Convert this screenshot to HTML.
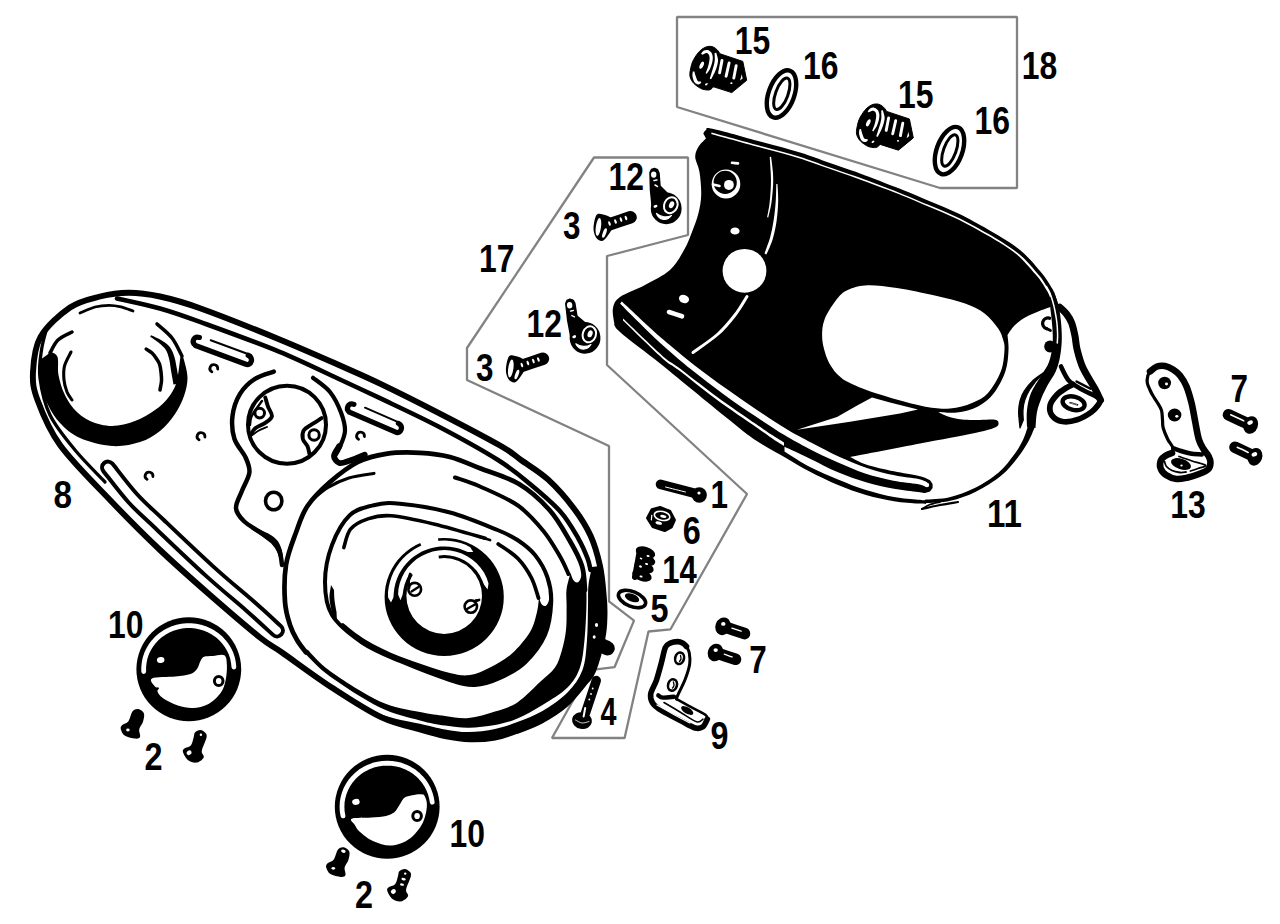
<!DOCTYPE html>
<html><head><meta charset="utf-8"><title>Primary chaincase</title>
<style>
html,body{margin:0;padding:0;background:#fff;}
body{width:1280px;height:924px;overflow:hidden;font-family:"Liberation Sans",sans-serif;}
svg{display:block}
text{font-family:"Liberation Sans",sans-serif;font-weight:bold;fill:#000;}
</style></head><body>
<svg width="1280" height="924" viewBox="0 0 1280 924">
<rect width="1280" height="924" fill="#fff"/>
<g id="groups">
<path d="M677.0 17.0L1017.0 17.0L1017.0 188.0L940.0 188.0L677.0 107.0Z" fill="none" stroke="#828282" stroke-width="2.3" stroke-linecap="round" stroke-linejoin="bevel"/>
<path d="M594.0 157.5L688.0 157.5L688.0 235.0L607.0 256.0L607.0 365.0L747.0 494.0L670.5 629.3L648.5 631.5L624.6 738.0L552.0 738.0L590.0 670.2L614.5 667.2L634.0 620.6L609.0 601.3L609.0 446.0L467.0 380.0L467.0 348.0Z" fill="none" stroke="#828282" stroke-width="2.3" stroke-linecap="round" stroke-linejoin="bevel"/>
</g>
<g id="labels" fill="#000" font-size="38.7">
<text x="734.7" y="53.7" textLength="35.5" lengthAdjust="spacingAndGlyphs">15</text>
<text x="802.9" y="79.0" textLength="35.5" lengthAdjust="spacingAndGlyphs">16</text>
<text x="897.9" y="107.9" textLength="35.5" lengthAdjust="spacingAndGlyphs">15</text>
<text x="974.5" y="134.1" textLength="35.5" lengthAdjust="spacingAndGlyphs">16</text>
<text x="1021.7" y="78.6" textLength="35.5" lengthAdjust="spacingAndGlyphs">18</text>
<text x="478.9" y="272.3" textLength="35.5" lengthAdjust="spacingAndGlyphs">17</text>
<text x="608.6" y="190.0" textLength="35.5" lengthAdjust="spacingAndGlyphs">12</text>
<text x="563.1" y="238.6" textLength="17.5" lengthAdjust="spacingAndGlyphs">3</text>
<text x="526.4" y="337.0" textLength="35.5" lengthAdjust="spacingAndGlyphs">12</text>
<text x="475.9" y="381.1" textLength="17.5" lengthAdjust="spacingAndGlyphs">3</text>
<text x="53.6" y="508.4" textLength="18.5" lengthAdjust="spacingAndGlyphs">8</text>
<text x="107.9" y="638.1" textLength="35.5" lengthAdjust="spacingAndGlyphs">10</text>
<text x="144.4" y="769.7" textLength="18" lengthAdjust="spacingAndGlyphs">2</text>
<text x="449.6" y="846.8" textLength="35.5" lengthAdjust="spacingAndGlyphs">10</text>
<text x="355.1" y="907.9" textLength="18" lengthAdjust="spacingAndGlyphs">2</text>
<text x="710.6" y="508.0" textLength="17.5" lengthAdjust="spacingAndGlyphs">1</text>
<text x="682.8" y="543.6" textLength="18" lengthAdjust="spacingAndGlyphs">6</text>
<text x="662.3" y="582.7" textLength="34.5" lengthAdjust="spacingAndGlyphs">14</text>
<text x="650.6" y="622.1" textLength="18" lengthAdjust="spacingAndGlyphs">5</text>
<text x="600.5" y="724.7" textLength="16" lengthAdjust="spacingAndGlyphs">4</text>
<text x="749.2" y="672.8" textLength="17.5" lengthAdjust="spacingAndGlyphs">7</text>
<text x="710.6" y="748.6" textLength="18" lengthAdjust="spacingAndGlyphs">9</text>
<text x="986.9" y="526.5" textLength="35" lengthAdjust="spacingAndGlyphs">11</text>
<text x="1170.2" y="518.0" textLength="35.5" lengthAdjust="spacingAndGlyphs">13</text>
<text x="1230.5" y="402.0" textLength="17.5" lengthAdjust="spacingAndGlyphs">7</text>
</g>
<g id="p11">
<path d="M703.3 133.5C703.8 132.9 704.5 130.8 706.0 130.0C707.5 129.2 703.5 126.8 712.5 128.7C721.5 130.6 745.4 137.5 760.0 141.5C774.6 145.5 788.3 148.9 800.0 152.5C811.7 156.1 820.0 159.5 830.0 163.0C840.0 166.5 848.3 169.1 860.0 173.4C871.7 177.7 888.5 184.2 900.0 188.8C911.5 193.4 919.5 196.9 929.2 201.0C938.9 205.1 948.7 208.9 958.4 213.6C968.1 218.3 979.6 224.7 987.6 229.2C995.6 233.7 1001.1 237.0 1006.5 240.5C1011.9 244.0 1016.1 246.8 1020.0 250.0C1023.9 253.2 1026.7 256.0 1030.0 259.5C1033.3 263.0 1037.4 267.9 1040.0 271.0C1042.6 274.1 1043.8 275.6 1045.5 277.9C1047.2 280.2 1048.6 282.6 1050.0 285.0C1051.4 287.4 1052.6 288.7 1054.0 292.0C1055.4 295.3 1057.7 302.8 1058.4 305.0L1053.0 306.0C1050.8 306.8 1044.5 309.0 1040.0 310.8C1035.5 312.6 1030.2 314.6 1026.0 317.0C1021.8 319.4 1017.6 322.5 1014.5 325.5C1011.4 328.5 1008.7 333.4 1007.5 335.0L1007.5 335.0C1007.7 337.5 1008.8 344.0 1008.5 350.0C1008.2 356.0 1007.9 363.8 1005.5 371.0C1003.1 378.2 998.6 387.1 994.0 393.0C989.4 398.9 984.2 403.2 978.0 406.5C971.8 409.8 963.7 411.6 957.0 412.5C950.3 413.4 941.2 412.1 938.0 412.0L938.0 412.0C939.7 412.8 944.0 415.2 948.0 416.5C952.0 417.8 956.7 419.0 962.0 419.6C967.3 420.2 974.5 420.0 980.0 420.0C985.5 420.0 991.9 419.3 995.0 419.8C998.1 420.3 998.5 421.7 998.5 423.0C998.5 424.3 998.9 425.8 995.0 427.5C991.1 429.2 987.5 430.3 975.0 433.0C962.5 435.7 940.8 439.5 920.0 443.5C899.2 447.5 861.7 454.8 850.0 457.0L850.0 457.0C852.7 458.2 858.7 462.0 866.0 464.4C873.3 466.8 885.3 469.4 894.0 471.3C902.7 473.2 912.7 474.7 918.0 475.8C923.3 476.9 924.7 477.8 926.0 478.2L930.0 480.3L932.6 484.0L932.6 488.0L930.0 491.5L925.0 493.0L926.0 504.0C924.7 503.9 923.3 504.1 918.0 503.6C912.7 503.1 902.7 502.6 894.0 501.2C885.3 499.8 875.3 497.7 866.0 495.0C856.7 492.3 847.3 488.9 838.0 485.0C828.7 481.1 818.7 476.3 810.0 471.8C801.3 467.3 795.0 463.2 786.0 458.0C777.0 452.8 766.2 447.4 756.0 440.5C745.8 433.6 740.7 429.1 725.0 416.5C709.3 403.9 679.5 379.1 662.0 365.0C644.5 350.9 628.0 339.2 620.0 332.0C612.0 324.8 615.0 323.7 614.0 322.0L614.0 322.0C613.8 319.7 612.0 312.2 613.0 308.0C614.0 303.8 614.7 300.8 620.0 297.0C625.3 293.2 636.7 289.5 645.0 285.0C653.3 280.5 663.5 275.8 670.0 270.0C676.5 264.2 680.3 256.3 684.0 250.0C687.7 243.7 689.6 238.2 692.0 232.0C694.4 225.8 697.0 219.2 698.5 213.0C700.0 206.8 701.0 201.8 701.2 195.0C701.4 188.2 700.5 178.4 699.5 172.0C698.5 165.6 695.3 161.1 695.2 156.8C695.1 152.5 697.2 149.1 699.0 146.0C700.8 142.9 704.8 139.7 706.0 138.4Z" fill="#000"/>
<path d="M620.1 303.4C623.2 306.6 632.0 315.7 638.8 322.3C645.5 328.9 651.7 335.3 660.5 343.2C669.2 351.1 680.9 361.2 691.3 369.6C701.8 378.1 712.7 386.3 723.2 393.9C733.7 401.6 744.1 408.7 754.3 415.5C764.5 422.4 775.4 429.6 784.4 435.1C793.4 440.5 799.8 444.0 808.5 448.4C817.3 452.9 827.4 457.8 836.9 462.0C846.3 466.1 855.7 470.3 865.1 473.5C874.5 476.6 884.7 479.0 893.4 480.7C902.2 482.5 912.1 483.1 917.5 484.1C922.9 485.2 924.4 486.3 925.7 486.8L927.3 482.4C925.8 481.9 924.0 480.2 918.5 479.1C913.1 477.9 903.2 477.1 894.6 475.3C886.0 473.4 876.2 471.0 866.9 467.9C857.7 464.9 848.4 461.0 839.1 456.8C829.9 452.6 820.1 447.3 811.5 442.8C802.9 438.2 796.6 435.1 787.6 429.7C778.6 424.4 767.8 417.2 757.7 410.5C747.6 403.7 737.3 396.6 726.8 389.1C716.3 381.6 705.2 373.6 694.7 365.4C684.1 357.2 672.4 347.4 663.5 339.8C654.6 332.2 648.2 326.1 641.2 319.7C634.3 313.3 625.1 304.6 621.9 301.6Z" fill="#fff"/>
<ellipse cx="927.0" cy="485.0" rx="2.2" ry="2.2" transform="rotate(0.0 927.0 485.0)" fill="#fff" stroke="none" stroke-width="2.5"/>
<path d="M623.0 318.6C629.5 324.7 652.9 347.3 662.0 355.4C671.1 363.5 668.9 360.2 677.9 367.0C686.9 373.8 702.8 386.4 715.8 395.9C728.8 405.4 746.5 417.4 756.0 424.0C765.5 430.6 768.3 432.5 773.0 435.6C777.7 438.7 782.2 441.4 784.0 442.6L784.0 445.8C782.2 444.6 777.7 442.0 773.0 438.9C768.3 435.8 765.5 433.7 756.0 427.0C746.5 420.3 728.8 408.5 715.8 398.9C702.8 389.3 686.9 376.3 677.9 369.5C668.9 362.7 671.1 366.0 662.0 357.9C652.9 349.8 629.5 326.8 623.0 320.6Z" fill="#fff"/>
<path d="M784.5 446.8C788.8 448.8 801.1 454.4 810.0 458.7C818.9 462.9 828.7 468.4 838.0 472.3C847.3 476.2 856.7 479.5 866.0 482.2C875.3 484.9 885.3 487.1 894.0 488.7C902.7 490.3 912.5 491.2 918.0 492.0C923.5 492.8 925.5 493.2 927.0 493.5L927.0 500.3C925.5 500.2 923.5 500.4 918.0 499.8C912.5 499.2 902.7 498.6 894.0 497.0C885.3 495.4 875.3 492.9 866.0 490.0C856.7 487.1 847.3 483.2 838.0 479.4C828.7 475.6 818.7 471.5 810.0 467.0C801.3 462.5 790.2 455.0 786.0 452.4C781.8 449.8 784.8 451.6 784.5 451.4Z" fill="#fff"/>
<path d="M1003.2 340.0C1002.2 336.4 1001.3 332.8 998.2 328.4C995.1 324.0 990.1 317.5 984.6 313.4C979.1 309.3 973.2 306.5 965.1 303.6C957.0 300.7 947.3 298.4 935.9 295.8C924.5 293.2 908.3 289.8 896.9 288.0C885.5 286.2 875.5 285.0 867.7 285.2C859.9 285.4 854.9 287.0 850.0 289.0C845.1 291.0 842.6 292.4 838.4 297.3C834.2 302.2 827.5 311.9 824.8 318.7C822.1 325.5 821.9 331.7 822.2 338.2C822.5 344.7 825.0 352.6 826.8 357.7C828.6 362.8 831.1 366.1 833.0 369.0C834.9 371.9 835.9 373.0 838.4 375.2C840.9 377.4 841.9 379.0 848.0 382.0C854.1 385.0 862.7 389.0 875.0 393.0C887.3 397.0 909.5 403.4 922.0 406.0C934.5 408.6 941.7 409.0 950.0 408.5C958.3 408.0 965.7 405.6 972.0 403.0C978.3 400.4 983.2 398.3 988.0 393.0C992.8 387.7 998.2 378.2 1001.0 371.0C1003.8 363.8 1004.1 355.2 1004.5 350.0C1004.9 344.8 1004.2 343.6 1003.2 340.0Z" fill="#fff" stroke="none" stroke-width="0" stroke-linejoin="round" />
<path d="M797.0 429.8L837.0 417.0L858.0 405.0L872.0 397.5L890.0 402.5L918.0 409.5L900.0 413.5L850.0 421.8Z" fill="#fff" stroke="none" stroke-width="0" stroke-linejoin="round" />
<ellipse cx="744.5" cy="270.8" rx="21.9" ry="21.9" transform="rotate(0.0 744.5 270.8)" fill="#fff" stroke="none" stroke-width="2.5"/>
<ellipse cx="735.0" cy="231.0" rx="4.6" ry="3.6" transform="rotate(0.0 735.0 231.0)" fill="#fff" stroke="none" stroke-width="2.5"/>
<ellipse cx="684.0" cy="299.0" rx="5.2" ry="4.0" transform="rotate(20.0 684.0 299.0)" fill="#fff" stroke="none" stroke-width="2.5"/>
<path d="M669.0 312.0C671.2 312.7 679.8 315.6 682.0 316.3" fill="none" stroke="#fff" stroke-width="4.6" stroke-linecap="round" stroke-linejoin="round" />
<path d="M732.0 162.8C733.0 162.9 737.0 163.3 738.0 163.4" fill="none" stroke="#fff" stroke-width="2.6" stroke-linecap="round" stroke-linejoin="round" />
<path d="M711.7 184a14.3 14.6 0 1 0 28.6 0a14.3 14.6 0 1 0 -28.6 0ZM713.6 182.4a11.6 11.6 0 1 1 23.2 0a11.6 11.6 0 1 1 -23.2 0Z" fill="#fff" fill-rule="evenodd"/>
<ellipse cx="728.9" cy="184.9" rx="4.9" ry="5.0" transform="rotate(0.0 728.9 184.9)" fill="#fff" stroke="none" stroke-width="2.5"/>
<path d="M713.0 184.5C714.1 184.8 718.4 185.8 719.5 186.0" fill="none" stroke="#fff" stroke-width="2.6" stroke-linecap="round" stroke-linejoin="round" />
<path d="M715.0 181.2C716.0 181.5 720.0 182.9 721.0 183.2" fill="none" stroke="#000" stroke-width="2.4" stroke-linecap="round" stroke-linejoin="round" />
<path d="M769.7 156.9C769.9 159.4 770.5 167.4 770.7 172.1C770.9 176.7 771.1 179.8 770.9 185.0C770.7 190.1 770.2 197.5 769.6 202.9C769.0 208.3 767.5 214.9 767.1 217.3L768.3 217.5C768.8 215.1 770.6 208.5 771.4 203.1C772.2 197.7 772.8 190.2 773.1 185.0C773.4 179.8 773.2 176.7 772.9 171.9C772.6 167.2 771.4 159.3 771.1 156.7Z" fill="#fff"/>
<path d="M776.3 183.9C776.2 186.6 776.2 194.0 775.8 199.9C775.4 205.9 774.7 213.5 773.7 219.8C772.8 226.1 771.6 232.0 770.1 237.6C768.5 243.2 765.4 250.9 764.5 253.6L766.5 254.4C767.6 251.7 771.3 244.1 772.9 238.4C774.6 232.7 775.8 226.6 776.7 220.2C777.6 213.8 778.1 206.1 778.2 200.1C778.3 194.0 777.6 186.6 777.5 183.9Z" fill="#fff"/>
<path d="M747.0 296.5C745.0 299.6 739.8 308.8 735.0 315.0C730.2 321.2 725.0 327.8 718.0 334.0C711.0 340.2 697.2 349.4 693.0 352.5" fill="none" stroke="#fff" stroke-width="3.0" stroke-linecap="round" stroke-linejoin="round" />
<path d="M711.2 134.0C719.1 136.2 744.0 143.1 758.5 147.1C773.0 151.1 786.7 154.4 798.3 157.9C809.9 161.5 818.2 164.9 828.1 168.3C838.1 171.8 846.4 174.5 858.0 178.7C869.7 182.9 886.5 189.2 898.0 193.7C909.6 198.3 917.5 201.8 927.1 205.9C936.8 210.0 946.5 213.7 956.1 218.4C965.7 223.0 977.1 229.4 985.0 233.9C992.9 238.3 998.3 241.6 1003.6 245.0C1008.8 248.4 1012.8 251.2 1016.5 254.3C1020.3 257.3 1022.7 260.0 1025.9 263.4C1029.1 266.7 1033.2 271.6 1035.7 274.6C1038.2 277.6 1039.4 278.9 1040.9 281.2C1042.5 283.4 1043.9 285.7 1045.2 287.9C1046.5 290.1 1047.5 291.0 1048.8 294.2C1050.2 297.3 1052.5 304.7 1053.2 306.8L1054.9 306.2C1054.2 304.1 1052.0 296.6 1050.7 293.4C1049.4 290.2 1048.3 289.1 1046.9 286.9C1045.6 284.6 1044.2 282.2 1042.6 280.0C1041.0 277.7 1039.8 276.3 1037.2 273.3C1034.7 270.3 1030.7 265.4 1027.4 262.0C1024.1 258.6 1021.5 255.9 1017.7 252.9C1013.8 249.8 1009.8 247.1 1004.4 243.7C999.1 240.3 993.7 237.0 985.7 232.6C977.8 228.1 966.4 221.8 956.7 217.1C947.0 212.5 937.4 208.7 927.7 204.6C918.0 200.5 910.1 197.0 898.6 192.4C887.0 187.9 870.2 181.5 858.6 177.3C846.9 173.0 838.6 170.4 828.6 166.9C818.7 163.4 810.4 160.0 798.8 156.4C787.2 152.8 773.5 149.4 759.0 145.4C744.4 141.4 719.5 134.6 711.6 132.4Z" fill="#fff"/>
<path d="M1049.5 298.0C1049.7 300.3 1050.3 307.0 1050.8 312.0C1051.3 317.0 1052.1 322.5 1052.4 328.0C1052.7 333.5 1053.1 339.3 1052.5 345.0C1051.9 350.7 1050.9 356.8 1049.0 362.0C1047.1 367.2 1044.0 370.8 1041.0 376.0C1038.0 381.2 1033.3 387.3 1031.0 393.0C1028.7 398.7 1027.7 404.3 1027.0 410.0C1026.3 415.7 1027.0 424.2 1027.0 427.0L1035.5 428.0C1035.8 425.3 1036.0 417.0 1037.0 412.0C1038.0 407.0 1039.7 402.6 1041.5 398.0C1043.3 393.4 1045.7 388.8 1048.0 384.5C1050.3 380.2 1053.5 376.6 1055.5 372.0C1057.5 367.4 1059.0 362.5 1060.0 357.0C1061.0 351.5 1061.7 345.2 1061.8 339.0C1061.9 332.8 1061.4 325.7 1060.8 320.0C1060.2 314.3 1059.5 309.7 1058.4 305.0C1057.3 300.3 1054.7 294.2 1054.0 292.0Z" fill="#000"/>
<path d="M1046.5 286.5C1047.0 287.6 1048.8 290.6 1049.8 293.0C1050.8 295.4 1051.8 298.2 1052.6 301.0C1053.4 303.8 1054.1 306.5 1054.8 310.0C1055.5 313.5 1056.3 318.0 1056.8 322.0C1057.3 326.0 1057.5 330.5 1057.6 334.0C1057.7 337.5 1057.3 341.5 1057.3 343.0" fill="none" stroke="#fff" stroke-width="1.5" stroke-linecap="round" stroke-linejoin="round" />
<path d="M925.2 503.3C929.4 502.9 942.0 502.7 950.4 500.8C958.8 498.8 967.4 495.9 975.8 491.7C984.3 487.5 994.3 481.3 1001.3 475.5C1008.3 469.8 1013.3 463.1 1017.8 457.4C1022.4 451.7 1025.7 446.3 1028.5 441.3C1031.3 436.3 1033.7 429.6 1034.8 427.3L1028.2 424.7C1027.5 427.1 1025.9 433.7 1023.5 438.7C1021.2 443.7 1018.3 449.0 1014.2 454.6C1010.0 460.2 1005.4 466.8 998.7 472.5C992.1 478.1 982.3 484.2 974.2 488.3C966.0 492.4 957.8 495.3 949.6 497.2C941.4 499.1 929.0 499.3 924.8 499.7Z" fill="#000"/>
<path d="M922.0 509.0C925.0 508.3 934.0 506.2 940.0 505.0C946.0 503.8 955.0 502.5 958.0 502.0" fill="none" stroke="#000" stroke-width="2.2" stroke-linecap="round" stroke-linejoin="round" />
<path d="M922.0 509.0C923.3 508.2 927.0 505.7 930.0 504.5C933.0 503.3 938.3 502.4 940.0 502.0" fill="none" stroke="#000" stroke-width="1.8" stroke-linecap="round" stroke-linejoin="round" />
<path d="M1043.3 373.0C1041.6 374.2 1036.2 377.5 1033.0 380.5C1029.8 383.5 1026.4 387.8 1024.2 391.2C1022.0 394.6 1020.9 397.5 1020.0 401.0C1019.1 404.5 1018.6 407.5 1018.6 412.0C1018.6 416.5 1019.8 425.3 1020.0 428.0L1023.3 420.0C1023.2 418.3 1022.8 413.3 1023.0 410.0C1023.2 406.7 1023.7 403.3 1024.8 400.0C1025.9 396.7 1027.6 393.2 1029.5 390.0C1031.4 386.8 1034.9 382.5 1036.0 381.0Z" fill="#000" stroke="#000" stroke-width="1.2" stroke-linejoin="round"/>
<path d="M1049.5 318.2A5.2 5.2 0 1 0 1046.5 328.6" fill="none" stroke="#000" stroke-width="3.3" stroke-linecap="round"/>
<path d="M1046.5 328.6C1047.2 328.9 1049.8 330.2 1050.5 330.5" fill="none" stroke="#000" stroke-width="2.8" stroke-linecap="round" stroke-linejoin="round" />
<ellipse cx="1050.0" cy="346.4" rx="5.8" ry="6.0" transform="rotate(0.0 1050.0 346.4)" fill="#000" stroke="none" stroke-width="2.5"/>
<path d="M1059.7 307.2C1060.8 308.3 1064.5 311.4 1066.5 314.0C1068.5 316.6 1070.3 319.3 1071.7 323.0C1073.1 326.7 1074.1 331.7 1075.0 336.0C1075.9 340.3 1075.7 343.8 1077.0 349.0C1078.3 354.2 1079.9 361.0 1082.8 367.5C1085.7 374.0 1091.5 382.6 1094.5 388.0C1097.5 393.4 1099.5 398.0 1100.5 400.0" fill="none" stroke="#000" stroke-width="7.0" stroke-linecap="round" stroke-linejoin="round" />
<path d="M1100.5 400.0C1100.2 400.8 1100.0 402.5 1098.5 404.5C1097.0 406.5 1095.1 409.4 1091.5 412.0C1087.9 414.6 1081.9 418.2 1077.0 419.8C1072.1 421.4 1066.5 422.2 1062.3 421.5C1058.1 420.8 1054.0 418.2 1052.0 415.5C1050.0 412.8 1049.4 408.5 1050.2 405.0C1051.0 401.5 1054.4 397.5 1057.0 394.7C1059.6 391.9 1063.3 389.7 1066.0 388.0C1068.7 386.3 1071.8 385.1 1073.0 384.5" fill="none" stroke="#000" stroke-width="5.8" stroke-linecap="round" stroke-linejoin="round" />
<path d="M1061.0 366.5C1062.3 368.9 1065.5 377.0 1069.0 380.8C1072.5 384.6 1078.1 387.2 1082.0 389.5C1085.9 391.8 1089.9 393.4 1092.5 394.7C1095.1 396.0 1096.7 397.0 1097.5 397.5" fill="none" stroke="#000" stroke-width="4.6" stroke-linecap="round" stroke-linejoin="round" />
<path d="M1076.5 381.5C1078.8 382.7 1088.2 387.6 1090.5 388.8" fill="none" stroke="#000" stroke-width="2.4" stroke-linecap="round" stroke-linejoin="round" />
<ellipse cx="1073.6" cy="403.3" rx="11.2" ry="6.6" transform="rotate(14.0 1073.6 403.3)" fill="#fff" stroke="#000" stroke-width="4.4"/>
<path d="M1070.2 402.8C1071.4 403.1 1076.2 404.5 1077.4 404.8" fill="none" stroke="#000" stroke-width="1.7" stroke-linecap="round" stroke-linejoin="round" />
<path d="M1070.8 403.0C1071.8 403.3 1075.8 404.3 1076.8 404.6" fill="none" stroke="#fff" stroke-width="0.5" stroke-linecap="round" stroke-linejoin="round" />
</g>
<g id="p8">
<path d="M33.0 372.0C33.5 361.5 34.3 347.8 40.5 337.0C46.7 326.2 60.1 314.2 70.0 307.5C79.9 300.8 90.2 299.0 100.0 296.5C109.8 294.0 118.7 292.7 128.7 292.7C138.7 292.7 148.1 293.9 160.0 296.5C171.9 299.1 180.2 301.1 200.0 308.2C219.8 315.3 255.7 329.6 279.0 339.2C302.3 348.8 323.2 358.1 340.0 365.5C356.8 372.9 363.6 375.7 380.0 383.6C396.4 391.5 418.4 402.5 438.4 412.8C458.4 423.1 486.2 437.6 500.0 445.5C513.8 453.4 513.0 454.3 521.0 460.0C529.0 465.7 539.4 471.6 548.2 479.7C557.0 487.8 566.8 499.1 573.9 508.5C581.0 517.9 586.2 526.2 590.6 535.8C595.0 545.4 597.8 556.0 600.0 566.0C602.2 576.0 603.0 587.8 603.7 596.0C604.5 604.2 604.7 608.1 604.5 615.0C604.3 621.9 604.4 628.2 602.5 637.5C600.6 646.8 596.0 663.4 593.0 671.0C590.0 678.6 589.1 677.4 584.5 683.0C579.9 688.6 572.8 698.2 565.5 704.5C558.2 710.8 549.2 716.4 541.0 720.8C532.8 725.2 524.2 728.2 516.5 731.0C508.8 733.8 502.8 736.1 495.0 737.5C487.2 738.9 478.3 739.5 470.0 739.3C461.7 739.0 453.2 737.6 445.0 736.0C436.8 734.4 431.4 732.8 420.8 729.7C410.2 726.6 396.4 724.4 381.5 717.4C366.6 710.4 348.3 698.3 331.7 687.5C315.1 676.7 293.9 660.8 282.0 652.5C270.1 644.2 272.0 647.1 260.0 637.5C248.0 627.9 226.7 609.6 210.0 595.0C193.3 580.4 176.7 565.8 160.0 550.0C143.3 534.2 126.7 517.5 110.0 500.0C93.3 482.5 72.1 461.7 60.0 445.0C47.9 428.3 42.0 412.2 37.5 400.0C33.0 387.8 32.5 382.5 33.0 372.0Z" fill="none" stroke="#000" stroke-width="5.9" stroke-linecap="round" stroke-linejoin="round" />
<path d="M600.0 566.0C600.6 571.0 603.0 587.8 603.7 596.0C604.5 604.2 604.7 608.1 604.5 615.0C604.3 621.9 604.4 628.2 602.5 637.5C600.6 646.8 596.0 663.4 593.0 671.0C590.0 678.6 589.1 677.4 584.5 683.0C579.9 688.6 572.8 698.2 565.5 704.5C558.2 710.8 549.2 716.4 541.0 720.8C532.8 725.2 524.2 728.2 516.5 731.0C508.8 733.8 502.8 736.1 495.0 737.5C487.2 738.9 478.3 739.5 470.0 739.3C461.7 739.0 453.2 737.6 445.0 736.0C436.8 734.4 431.4 732.8 420.8 729.7C410.2 726.6 395.0 723.5 381.5 717.4C368.0 711.3 346.9 697.1 340.0 693.0L340.0 690.5C346.7 694.4 366.7 708.2 380.0 713.7C393.3 719.2 409.2 721.2 420.0 723.8C430.8 726.4 436.9 728.1 445.0 729.5C453.1 730.9 460.4 732.2 468.7 732.1C477.0 732.0 486.9 730.7 495.0 729.0C503.1 727.3 509.5 725.0 517.4 722.0C525.3 719.0 534.1 715.9 542.5 711.0C550.9 706.1 560.8 699.3 567.5 692.5C574.2 685.7 579.2 678.8 582.5 670.0C585.8 661.2 586.1 650.6 587.0 640.0C587.9 629.4 587.8 615.8 588.0 606.6C588.2 597.4 587.8 591.6 588.5 585.0C589.2 578.4 591.4 570.0 592.0 567.0Z" fill="#000"/>
<path d="M117.0 298.5C124.2 300.2 146.2 304.6 160.0 308.5C173.8 312.4 180.2 314.7 200.0 321.9C219.8 329.1 255.7 342.0 279.0 351.6C302.3 361.2 323.2 371.7 340.0 379.5C356.8 387.3 363.6 390.4 380.0 398.2C396.4 406.0 418.7 416.2 438.4 426.5C458.1 436.8 482.7 450.4 498.0 460.0C513.3 469.6 519.6 475.4 530.0 484.0C540.4 492.6 552.2 502.4 560.3 511.5C568.4 520.6 574.0 531.0 578.5 538.8C583.0 546.6 585.6 553.3 587.6 558.5C589.6 563.7 590.0 568.1 590.5 570.0" fill="none" stroke="#000" stroke-width="4.6" stroke-linecap="round" stroke-linejoin="round" />
<path d="M47.0 327.0C46.1 330.8 42.7 341.5 41.5 350.0C40.3 358.5 38.6 367.2 40.0 378.0C41.4 388.8 44.2 403.0 50.0 415.0C55.8 427.0 65.8 438.8 75.0 450.0C84.2 461.2 100.0 476.7 105.0 482.0" fill="none" stroke="#000" stroke-width="3.3" stroke-linecap="round" stroke-linejoin="round" />
<path d="M583.0 566.0C583.5 569.2 585.4 578.2 586.0 585.0C586.6 591.8 586.6 597.4 586.4 606.6C586.1 615.8 585.6 629.9 584.5 640.0C583.4 650.1 582.8 659.6 580.0 667.5C577.2 675.4 573.8 681.2 567.5 687.5C561.2 693.8 550.9 699.8 542.5 705.0C534.1 710.2 525.3 715.2 517.4 718.5C509.5 721.8 503.1 723.5 495.0 725.0C486.9 726.5 477.0 727.6 468.7 727.7C460.4 727.8 453.1 726.7 445.0 725.5C436.9 724.3 430.8 723.4 420.0 720.4C409.2 717.4 395.0 714.8 380.0 707.5C365.0 700.2 342.5 685.5 330.0 676.5C317.5 667.5 309.2 657.3 305.0 653.5L307.5 649.5C311.2 653.1 317.9 662.3 330.0 671.0C342.1 679.7 365.0 694.6 380.0 701.5C395.0 708.4 409.2 709.7 420.0 712.1C430.8 714.5 436.9 715.0 445.0 716.0C453.1 717.0 460.4 718.8 468.7 718.0C477.0 717.2 486.9 714.1 495.0 711.5C503.1 708.9 509.9 707.3 517.4 702.4C524.9 697.5 533.7 687.8 540.0 682.0C546.3 676.2 551.3 672.8 555.0 667.5C558.7 662.2 560.2 656.2 562.0 650.0C563.8 643.8 565.2 637.2 566.0 630.0C566.8 622.8 566.5 613.3 566.6 606.6C566.7 599.9 565.9 595.6 566.5 590.0C567.1 584.4 569.8 575.8 570.5 573.0C572 578 574 582.5 577 582.5C580 582.5 582 576 583 566Z" fill="#000"/>
<path d="M585.0 590.0C584.5 586.0 584.6 574.3 582.0 566.0C579.4 557.7 574.9 549.6 569.5 540.3C564.1 531.0 557.9 519.4 549.5 510.0C541.1 500.6 530.6 490.9 519.0 484.0C507.4 477.1 491.5 472.8 480.0 468.3C468.5 463.8 460.0 459.6 450.0 457.0C440.0 454.4 430.7 453.3 420.0 452.8C409.3 452.3 396.3 452.3 386.0 453.8C375.7 455.3 367.3 457.3 358.0 462.0C348.7 466.7 338.4 474.7 330.0 482.0C321.6 489.3 313.2 497.6 307.5 506.0C301.8 514.4 299.6 522.7 296.0 532.5C292.4 542.3 287.8 553.4 286.0 565.0C284.2 576.6 284.3 592.0 285.0 602.0C285.7 612.0 288.0 618.7 290.0 625.0C292.0 631.3 294.3 635.4 297.0 640.0C299.7 644.6 304.5 650.4 306.0 652.5" fill="none" stroke="#000" stroke-width="4.72" stroke-linecap="round" stroke-linejoin="round" />
<path d="M455.0 477.5C459.2 479.0 469.5 481.8 480.0 486.5C490.5 491.2 507.3 498.1 517.9 505.5C528.5 513.0 536.5 522.6 543.6 531.2C550.7 539.8 556.1 549.9 560.3 557.0C564.4 564.1 567.1 571.2 568.5 574.0" fill="none" stroke="#000" stroke-width="4.01" stroke-linecap="round" stroke-linejoin="round" />
<path d="M374.0 473.4C369.8 474.2 356.5 475.6 348.8 478.0C341.1 480.4 334.1 483.8 328.0 487.5C321.9 491.2 314.7 497.9 312.0 500.0" fill="none" stroke="#000" stroke-width="3.07" stroke-linecap="round" stroke-linejoin="round" />
<path d="M40.0 360.0C40.2 364.2 39.7 377.5 41.0 385.0C42.3 392.5 44.8 398.7 48.0 405.0C51.2 411.3 54.7 417.5 60.0 423.0C65.3 428.5 71.3 434.2 80.0 438.0C88.7 441.8 102.0 445.3 112.0 446.0C122.0 446.7 132.0 444.5 140.0 442.0C148.0 439.5 154.2 435.7 160.0 431.0C165.8 426.3 171.0 419.8 175.0 414.0C179.0 408.2 181.9 402.0 184.0 396.0C186.1 390.0 187.5 384.0 187.5 378.0C187.5 372.0 185.1 364.3 184.0 360.0C182.9 355.7 181.5 353.3 181.0 352.0L179.0 368.0C178.5 370.7 177.8 379.0 176.0 384.0C174.2 389.0 171.5 393.7 168.0 398.0C164.5 402.3 160.5 406.2 155.0 410.0C149.5 413.8 142.2 418.3 135.0 421.0C127.8 423.7 119.5 426.0 112.0 426.0C104.5 426.0 96.3 423.8 90.0 421.0C83.7 418.2 78.3 413.7 74.0 409.0C69.7 404.3 66.6 398.7 64.0 393.0C61.4 387.3 59.6 381.0 58.5 375.0C57.4 369.0 58.8 360.8 57.5 357.0C56.2 353.2 52.1 352.8 51.0 352.0Z" fill="#000"/>
<path d="M50.0 353.0C51.3 350.8 54.3 343.5 58.0 340.0C61.7 336.5 69.7 333.3 72.0 332.0" fill="none" stroke="#000" stroke-width="3.54" stroke-linecap="round" stroke-linejoin="round" />
<path d="M182.0 356.0C180.3 353.0 176.2 343.3 172.0 338.0C167.8 332.7 159.5 326.3 157.0 324.0" fill="none" stroke="#000" stroke-width="3.54" stroke-linecap="round" stroke-linejoin="round" />
<path d="M71.0 352.0C69.9 354.3 65.7 361.3 64.5 366.0C63.3 370.7 63.6 375.7 64.0 380.0C64.4 384.3 65.7 388.7 67.0 392.0C68.3 395.3 71.2 398.7 72.0 400.0" fill="none" stroke="#000" stroke-width="3.07" stroke-linecap="round" stroke-linejoin="round" />
<path d="M150.2 336.7C151.7 337.7 156.4 340.7 159.0 342.9C161.6 345.0 164.0 346.9 165.6 349.6C167.3 352.2 168.2 355.3 169.1 358.8C170.0 362.3 170.3 366.2 171.0 370.5C171.8 374.8 173.1 382.2 173.5 384.5L179.5 383.5C179.0 381.1 177.8 373.8 177.0 369.5C176.1 365.1 175.7 361.0 174.5 357.2C173.3 353.4 171.8 349.7 169.6 346.8C167.3 344.0 164.1 342.0 161.0 340.1C157.9 338.2 152.7 336.1 151.0 335.3Z" fill="#000"/>
<path d="M146.2 349.1C147.2 349.8 150.4 351.5 152.0 353.0C153.6 354.5 154.8 356.1 156.0 357.9C157.2 359.7 158.7 361.6 159.5 364.0C160.3 366.4 160.7 369.2 161.0 372.0C161.3 374.8 161.7 378.0 161.5 381.0C161.3 384.0 160.2 388.5 160.0 390.0" fill="none" stroke="#000" stroke-width="3.54" stroke-linecap="round" stroke-linejoin="round" />
<path d="M80.0 313.0C82.5 312.0 90.2 308.3 95.0 307.0C99.8 305.7 104.7 305.3 109.0 305.3C113.3 305.3 117.0 305.9 121.0 306.8C125.0 307.8 131.0 310.3 133.0 311.0" fill="none" stroke="#000" stroke-width="2.83" stroke-linecap="round" stroke-linejoin="round" />
<path d="M199.4 337.4C194.1 335.7 190.8 341.8 195.4 345.5L245.9 364.3C251.1 366.2 254.3 357.6 248.2 355.3" fill="none" stroke="#000" stroke-width="5.2" stroke-linecap="round" stroke-linejoin="round"/>
<path d="M248.6 354.3L210.7 340.2" fill="none" stroke="#000" stroke-width="2" stroke-linecap="round"/>
<path d="M353.9 404.4C348.6 402.4 345.1 408.3 349.4 412.2L395.7 432.2C400.7 434.4 404.4 426.0 398.4 423.4" fill="none" stroke="#000" stroke-width="5.2" stroke-linecap="round" stroke-linejoin="round"/>
<path d="M398.8 422.4L365.0 407.7" fill="none" stroke="#000" stroke-width="2" stroke-linecap="round"/>
<path d="M108.0 467.5C112.2 472.7 124.3 489.0 133.0 498.5C141.7 508.0 147.2 512.3 160.0 524.5C172.8 536.7 195.0 557.9 210.0 571.5C225.0 585.1 238.8 596.2 250.0 606.0C261.2 615.8 272.5 626.4 277.0 630.5" fill="none" stroke="#000" stroke-width="15.81" stroke-linecap="round" stroke-linejoin="round" />
<path d="M108.0 467.5C112.2 472.7 124.3 489.0 133.0 498.5C141.7 508.0 147.2 512.3 160.0 524.5C172.8 536.7 195.0 557.9 210.0 571.5C225.0 585.1 238.8 596.2 250.0 606.0C261.2 615.8 272.5 626.4 277.0 630.5" fill="none" stroke="#fff" stroke-width="7.79" stroke-linecap="round" stroke-linejoin="round" />
<path d="M211.9 371.9A3.9 3.9 0 1 1 217.7 369.0" fill="none" stroke="#000" stroke-width="2.8" stroke-linecap="round" transform="rotate(0 213.8 368.5)"/>
<path d="M199.1 439.9A3.9 3.9 0 1 1 204.9 437.0" fill="none" stroke="#000" stroke-width="2.8" stroke-linecap="round" transform="rotate(0 201.0 436.5)"/>
<path d="M147.1 479.4A3.9 3.9 0 1 1 152.9 476.5" fill="none" stroke="#000" stroke-width="2.8" stroke-linecap="round" transform="rotate(0 149.0 476.0)"/>
<path d="M358.6 439.4A3.9 3.9 0 1 1 364.4 436.5" fill="none" stroke="#000" stroke-width="2.8" stroke-linecap="round" transform="rotate(0 360.5 436.0)"/>
<ellipse cx="287.0" cy="424.7" rx="39.0" ry="39.0" transform="rotate(0.0 287.0 424.7)" fill="none" stroke="#000" stroke-width="4"/>
<ellipse cx="259.7" cy="413.1" rx="4.8" ry="4.8" transform="rotate(0.0 259.7 413.1)" fill="none" stroke="#000" stroke-width="3"/>
<ellipse cx="314.1" cy="435.0" rx="5.2" ry="5.2" transform="rotate(0.0 314.1 435.0)" fill="none" stroke="#000" stroke-width="3"/>
<path d="M265.3 397.5C265.8 399.1 267.0 403.8 268.1 406.9C269.2 410.0 272.4 413.6 271.9 416.3C271.4 419.0 268.1 420.8 265.3 422.8C262.5 424.8 257.3 426.5 255.0 428.4C252.7 430.3 251.9 433.2 251.3 434.1" fill="none" stroke="#000" stroke-width="3.89" stroke-linecap="round" stroke-linejoin="round" />
<path d="M262.0 401.0C260.7 402.8 255.8 409.2 254.0 412.0C252.2 414.8 251.7 415.8 251.0 418.0C250.3 420.2 250.2 423.8 250.0 425.0" fill="none" stroke="#000" stroke-width="2.36" stroke-linecap="round" stroke-linejoin="round" />
<path d="M251.0 436.0C252.2 435.2 255.3 432.5 258.0 431.0C260.7 429.5 265.5 427.7 267.0 427.0" fill="none" stroke="#000" stroke-width="1.89" stroke-linecap="round" stroke-linejoin="round" />
<path d="M321.6 418.1C319.9 419.2 314.3 422.7 311.3 424.7C308.3 426.7 305.2 427.9 303.8 430.3C302.4 432.7 302.2 436.1 302.8 438.8C303.4 441.5 306.4 443.8 307.5 446.3C308.6 448.8 309.1 452.6 309.4 453.8" fill="none" stroke="#000" stroke-width="3.89" stroke-linecap="round" stroke-linejoin="round" />
<path d="M273.8 371.6C270.7 372.8 260.6 375.1 255.0 378.8C249.4 382.5 243.8 387.6 240.0 393.8C236.2 400.0 233.4 408.5 232.5 416.0C231.6 423.5 232.2 431.9 234.4 438.8C236.6 445.7 243.1 451.9 245.6 457.5C248.1 463.1 250.0 466.9 249.4 472.5C248.8 478.1 244.1 485.1 241.9 491.0C239.7 496.9 235.7 503.0 236.0 508.0C236.3 513.0 239.7 516.9 243.8 521.0C247.9 525.1 255.4 528.9 260.6 532.5C265.8 536.1 271.8 539.1 275.0 542.5C278.2 545.9 278.8 549.2 280.0 553.0C281.2 556.8 281.7 563.0 282.0 565.0" fill="none" stroke="#000" stroke-width="4.48" stroke-linecap="round" stroke-linejoin="round" />
<path d="M313.0 377.8C315.8 380.2 325.3 386.2 330.0 392.0C334.7 397.8 338.5 406.0 341.0 412.5C343.5 419.0 345.3 425.1 345.0 431.0C344.7 436.9 341.1 443.8 339.4 448.0C337.7 452.2 335.7 454.7 335.0 456.0" fill="none" stroke="#000" stroke-width="4.25" stroke-linecap="round" stroke-linejoin="round" />
<path d="M339.4 446.0C338.5 447.7 334.0 453.2 334.0 456.0C334.0 458.8 336.9 462.2 339.4 463.0C341.9 463.8 344.6 462.4 348.8 461.0C353.0 459.6 362.1 455.8 364.7 454.7" fill="none" stroke="#000" stroke-width="5.9" stroke-linecap="round" stroke-linejoin="round" />
<path d="M251.0 529.1C252.4 530.1 256.8 532.9 259.3 534.6C261.8 536.4 264.0 537.9 266.1 539.6C268.3 541.3 270.6 542.8 272.5 544.9C274.3 546.9 275.9 549.3 277.2 551.9C278.4 554.4 279.3 557.9 280.0 560.2C280.7 562.6 281.0 565.1 281.2 566.1L282.8 565.9C282.8 564.9 283.1 562.4 283.0 559.8C282.8 557.1 282.7 553.3 281.8 550.1C280.9 546.9 279.5 543.3 277.5 540.7C275.6 538.1 272.5 536.1 269.9 534.4C267.2 532.7 264.7 531.8 261.9 530.4C259.1 528.9 254.4 526.6 253.0 525.9Z" fill="#000"/>
<ellipse cx="273.7" cy="501.0" rx="8.2" ry="8.8" transform="rotate(0.0 273.7 501.0)" fill="none" stroke="#000" stroke-width="3.6"/>
<path d="M325.0 582.0C325.0 570.3 327.8 556.2 332.0 545.0C336.2 533.8 342.8 521.7 350.0 515.0C357.2 508.3 366.7 506.9 375.0 505.0C383.3 503.1 387.5 502.4 400.0 503.7C412.5 504.9 433.8 508.1 450.0 512.5C466.2 516.9 486.2 525.4 497.5 530.0C508.8 534.6 511.2 535.8 517.5 540.0C523.8 544.2 530.0 548.8 535.0 555.0C540.0 561.2 544.8 569.6 547.5 577.5C550.2 585.4 551.6 592.9 551.2 602.5C550.8 612.1 549.4 625.0 545.0 635.0C540.6 645.0 532.5 655.3 525.0 662.5C517.5 669.7 508.3 674.2 500.0 678.0C491.7 681.8 483.3 684.7 475.0 685.0C466.7 685.3 462.5 684.0 450.0 680.0C437.5 676.0 414.7 667.2 400.0 661.0C385.3 654.8 373.3 650.2 362.0 642.5C350.7 634.8 338.2 625.1 332.0 615.0C325.8 604.9 325.0 593.7 325.0 582.0Z" fill="none" stroke="#000" stroke-width="4.01" stroke-linecap="round" stroke-linejoin="round" />
<path d="M549.7 596.4C550.0 598.7 552.0 603.6 551.2 610.0C550.4 616.4 549.4 626.2 545.0 635.0C540.6 643.8 532.5 655.3 525.0 662.5C517.5 669.7 508.3 674.2 500.0 678.0C491.7 681.8 483.3 684.7 475.0 685.0C466.7 685.3 462.5 684.0 450.0 680.0C437.5 676.0 414.7 667.2 400.0 661.0C385.3 654.8 372.0 648.7 362.0 642.5C352.0 636.3 343.7 627.1 340.0 624.0L343.0 623.0C346.8 625.8 356.5 634.4 366.0 640.0C375.5 645.6 386.3 651.1 400.0 656.5C413.7 661.9 436.3 669.4 448.0 672.5C459.7 675.6 463.0 675.8 470.0 675.0C477.0 674.2 483.0 671.1 490.0 667.5C497.0 663.9 505.3 659.4 512.0 653.5C518.7 647.6 525.8 638.9 530.0 632.0C534.2 625.1 535.5 617.8 537.0 612.0C538.5 606.2 538.7 599.5 539.0 597.0C540 602 542 606 544.5 606C547 606 549 602 549.7 596.4Z" fill="#000"/>
<path d="M498.2 544.0C501.5 546.4 512.4 552.8 517.9 558.5C523.4 564.2 528.1 571.4 531.5 578.0C534.9 584.6 537.3 594.7 538.5 598.0" fill="none" stroke="#000" stroke-width="3.78" stroke-linecap="round" stroke-linejoin="round" />
<path d="M480.0 537.0C481.7 537.5 488.3 539.5 490.0 540.0" fill="none" stroke="#000" stroke-width="2.83" stroke-linecap="round" stroke-linejoin="round" />
<path d="M343.8 547.7C344.9 544.6 346.6 534.0 350.5 529.2C354.4 524.4 360.6 521.3 367.3 519.1C374.0 516.9 379.7 514.9 390.9 515.8C402.1 516.6 419.0 520.5 434.7 524.2C450.4 528.0 476.8 535.9 485.2 538.3" fill="none" stroke="#000" stroke-width="3.54" stroke-linecap="round" stroke-linejoin="round" />
<path d="M331.0 585.0C330.8 587.2 329.3 593.5 329.5 598.0C329.7 602.5 330.8 608.0 332.0 612.0C333.2 616.0 336.2 620.3 337.0 622.0L336.5 612.0C336.2 610.0 334.9 603.7 334.5 600.0C334.1 596.3 334.1 591.7 334.0 590.0Z" fill="#000"/>
<path d="M384.6 597.0a59.6 59 0 1 0 119.2 0a59.6 59 0 1 0 -119.2 0ZM406.4 596.0a37.8 38 0 1 1 75.6 0a37.8 38 0 1 1 -75.6 0Z" fill="#000" fill-rule="evenodd"/>
<path d="M391.0 602.6L388.1 597.6L388.0 592.3L388.7 587.1L389.9 581.9L391.5 576.9L393.6 572.1L396.2 567.4L399.2 563.1L402.5 559.0L406.3 555.3L410.4 551.9L414.7 548.9L419.4 546.4L424.2 544.3L429.2 542.6L434.4 541.5L439.7 540.8L444.9 540.6L450.2 540.9L455.4 541.7L460.6 543.0L465.6 544.8L470.2 547.3L473.3 552.1L473.3 552.1L467.8 551.9L463.4 550.2L458.9 548.6L454.3 547.4L449.6 546.7L444.9 546.4L440.1 546.6L435.4 547.2L430.8 548.2L426.3 549.7L421.9 551.6L417.8 553.9L413.8 556.5L410.2 559.5L406.8 562.9L403.8 566.5L401.1 570.5L398.8 574.6L396.9 579.0L395.4 583.5L394.4 588.1L393.8 592.8L393.4 597.6L391.0 602.6Z" fill="#fff"/>
<path d="M419.4 541.3L420.1 541.0L420.9 540.6L421.6 540.3L422.3 540.1L423.1 539.8L423.8 539.5L424.6 539.2L425.3 539.0L426.1 538.7L426.9 538.5L427.6 538.3L428.4 538.1L429.2 537.9L430.0 537.7L430.7 537.5L431.5 537.3L432.3 537.2L433.1 537.0L433.9 536.9L434.7 536.8L435.4 536.6L436.2 536.5L437.0 536.4L437.8 536.3L438.5 542.3L437.7 542.4L437.0 542.5L436.3 542.6L435.6 542.7L434.9 542.8L434.2 542.9L433.5 543.1L432.8 543.2L432.1 543.4L431.4 543.5L430.7 543.7L430.0 543.9L429.3 544.1L428.6 544.3L427.9 544.5L427.2 544.7L426.5 544.9L425.8 545.2L425.2 545.4L424.5 545.7L423.8 545.9L423.2 546.2L422.5 546.5L421.8 546.8Z" fill="#fff"/>
<path d="M400.5 600.3L398.1 594.6L398.5 588.7L399.8 582.9L401.9 577.4L404.7 572.1L408.1 567.3L412.2 562.9L416.7 559.1L421.7 555.9L427.1 553.4L432.7 551.5L438.5 550.4L444.5 550.1L450.4 550.5L456.2 551.7L461.8 553.6L467.2 556.2L472.1 559.4L476.6 563.3L480.6 567.7L484.0 572.6L486.7 577.9L488.5 583.5L487.6 589.6L487.6 589.6L484.1 584.8L482.1 579.9L479.7 575.2L476.7 570.8L473.1 566.9L469.1 563.4L464.7 560.5L459.9 558.2L454.9 556.5L449.7 555.5L444.4 555.1L439.2 555.4L434.0 556.4L428.9 558.0L424.1 560.3L419.7 563.1L415.6 566.6L412.0 570.4L409.0 574.8L406.5 579.4L404.6 584.4L403.4 589.5L402.6 594.8L400.5 600.3Z" fill="#fff"/>
<path d="M409.4 572.5L410.2 571.3L411.1 570.1L412.0 569.0L413.0 567.9L414.0 566.8L415.0 565.8L416.1 564.8L417.2 563.8L418.3 562.9L419.5 562.0L420.7 561.2L421.9 560.4L423.2 559.6L424.5 558.9L425.8 558.3L427.1 557.6L428.5 557.1L429.8 556.5L431.2 556.1L432.6 555.6L434.0 555.2L435.5 554.9L436.9 554.6L438.4 554.4L439.3 561.3L438.1 561.5L436.9 561.8L435.7 562.0L434.6 562.4L433.4 562.7L432.2 563.1L431.1 563.5L430.0 564.0L428.9 564.5L427.8 565.1L426.7 565.7L425.7 566.3L424.6 567.0L423.6 567.7L422.7 568.4L421.7 569.2L420.8 570.0L419.9 570.8L419.0 571.7L418.2 572.6L417.4 573.5L416.6 574.5L415.9 575.4L415.2 576.4Z" fill="#fff"/>
<ellipse cx="414.7" cy="589.3" rx="6.4" ry="6.4" transform="rotate(0.0 414.7 589.3)" fill="none" stroke="#000" stroke-width="2.6"/>
<path d="M410.2 574.0C409.9 575.2 408.8 578.7 408.6 581.0C408.4 583.3 408.9 586.8 409.0 588.0" fill="none" stroke="#000" stroke-width="2.83" stroke-linecap="round" stroke-linejoin="round" />
<path d="M411.5 591.5C412.7 590.8 417.3 587.8 418.5 587.0" fill="none" stroke="#000" stroke-width="2.36" stroke-linecap="round" stroke-linejoin="round" />
<ellipse cx="470.8" cy="606.6" rx="6.2" ry="6.2" transform="rotate(0.0 470.8 606.6)" fill="none" stroke="#000" stroke-width="2.6"/>
<path d="M467.0 609.0C468.3 608.2 473.7 605.2 475.0 604.5" fill="none" stroke="#000" stroke-width="2.36" stroke-linecap="round" stroke-linejoin="round" />
<path d="M475.0 601.0C475.7 600.8 478.3 600.2 479.0 600.0" fill="none" stroke="#000" stroke-width="2.83" stroke-linecap="round" stroke-linejoin="round" />
<path d="M597.0 643.5C598.8 644.3 605.8 647.4 607.5 648.2" fill="none" stroke="#000" stroke-width="14.5" stroke-linecap="round" stroke-linejoin="round" />
<ellipse cx="596.5" cy="625.0" rx="1.6" ry="2.0" transform="rotate(0.0 596.5 625.0)" fill="#fff" stroke="none" stroke-width="2.5"/>
<ellipse cx="594.2" cy="637.0" rx="1.5" ry="1.7" transform="rotate(0.0 594.2 637.0)" fill="#fff" stroke="none" stroke-width="2.5"/>
</g>
<g transform="translate(188.8 669.3)">
<ellipse cx="0.0" cy="0.0" rx="52.4" ry="52.0" transform="rotate(0.0 0.0 0.0)" fill="#000" stroke="none" stroke-width="2.5"/>
<path d="M-45.1 2.3L-45.1 -2.3L-44.6 -6.8L-43.7 -11.3L-42.2 -15.7L-40.3 -19.8L-37.9 -23.8L-35.1 -27.5L-32.0 -30.9L-28.4 -34.0L-24.6 -36.6L-20.5 -38.9L-16.2 -40.8L-11.7 -42.2L-7.1 -43.2L-2.4 -43.6L2.4 -43.6L7.1 -43.2L11.7 -42.2L16.2 -40.8L20.5 -38.9L24.6 -36.6L28.4 -34.0L32.0 -30.9L35.1 -27.5L37.9 -23.8L40.3 -19.8L42.2 -15.7L43.7 -11.3L44.6 -6.8L45.1 -2.3" fill="none" stroke="#fff" stroke-width="4.8" stroke-linecap="round" stroke-linejoin="round" />
<path d="M-36.8 9.2C-33.4 7.5 -19.8 8.0 -13.4 7.3C-7.0 6.5 -1.9 6.0 1.7 4.7C5.3 3.4 6.5 1.9 8.2 -0.3C9.9 -2.5 10.5 -6.3 11.7 -8.3C12.9 -10.3 13.1 -11.7 15.2 -12.5C17.3 -13.3 20.8 -13.1 24.2 -13.3C27.6 -13.6 33.3 -15.6 35.6 -14.0C37.9 -12.4 37.9 -8.2 38.1 -4.0C38.3 0.2 37.8 6.5 36.8 11.1C35.8 15.7 34.7 19.7 31.8 23.7C28.9 27.7 23.8 32.5 19.2 35.0C14.6 37.5 9.2 38.5 4.2 38.7C-0.8 38.9 -5.9 37.9 -10.9 36.2C-15.9 34.5 -22.6 31.0 -26.0 28.7C-29.4 26.4 -30.7 23.9 -31.3 22.2C-31.9 20.5 -29.4 19.5 -29.8 18.7C-30.2 17.9 -32.6 18.8 -33.8 17.2C-35.0 15.6 -40.2 10.8 -36.8 9.2Z" fill="#fff" stroke="none" stroke-width="0" stroke-linejoin="round" />
<ellipse cx="-28.1" cy="-9.3" rx="3.8" ry="3.0" transform="rotate(-10.0 -28.1 -9.3)" fill="#fff" stroke="none" stroke-width="2.5"/>
<ellipse cx="29.9" cy="11.7" rx="4.3" ry="4.6" transform="rotate(0.0 29.9 11.7)" fill="#fff" stroke="#000" stroke-width="3"/>
</g>
<g transform="translate(387.2 806.8)">
<ellipse cx="0.0" cy="0.0" rx="52.4" ry="52.0" transform="rotate(0.0 0.0 0.0)" fill="#000" stroke="none" stroke-width="2.5"/>
<path d="M-44.2 9.1L-45.0 4.6L-45.2 0.0L-45.0 -4.6L-44.2 -9.1L-43.0 -13.5L-41.3 -17.8L-39.1 -21.9L-36.6 -25.7L-33.6 -29.2L-30.2 -32.5L-26.6 -35.4L-22.6 -37.8L-18.4 -39.9L-14.0 -41.6L-9.4 -42.7L-4.7 -43.5L-0.0 -43.7L4.7 -43.5L9.4 -42.7L14.0 -41.6L18.4 -39.9L22.6 -37.8L26.6 -35.4L30.2 -32.5L33.6 -29.2L36.6 -25.7L39.1 -21.9L41.3 -17.8L43.0 -13.5L44.2 -9.1L45.0 -4.6" fill="none" stroke="#fff" stroke-width="4.8" stroke-linecap="round" stroke-linejoin="round" />
<path d="M-35.5 12.0C-32.8 10.8 -21.7 11.3 -16.0 10.8C-10.3 10.3 -4.6 9.9 -1.1 9.2C2.4 8.5 3.3 7.7 5.0 6.8C6.7 5.9 7.5 5.2 8.8 3.6C10.1 2.0 11.6 -0.9 13.0 -3.0C14.4 -5.1 15.2 -7.7 17.2 -9.1C19.2 -10.5 22.2 -11.0 25.0 -11.6C27.8 -12.2 32.0 -12.8 34.1 -12.6C36.2 -12.4 36.7 -12.5 37.6 -10.5C38.5 -8.5 40.1 -5.2 39.7 -0.7C39.4 3.8 38.3 10.8 35.5 16.2C32.7 21.6 27.9 27.9 22.8 31.7C17.7 35.5 10.7 38.2 4.6 38.7C-1.5 39.2 -8.3 36.8 -13.7 34.5C-19.1 32.2 -24.7 27.4 -27.8 24.7C-30.9 21.9 -31.2 20.1 -32.5 18.0C-33.8 15.9 -38.2 13.2 -35.5 12.0Z" fill="#fff" stroke="none" stroke-width="0" stroke-linejoin="round" />
<ellipse cx="-31.3" cy="-4.9" rx="3.8" ry="3.0" transform="rotate(-10.0 -31.3 -4.9)" fill="#fff" stroke="none" stroke-width="2.5"/>
<ellipse cx="29.9" cy="9.2" rx="4.3" ry="4.6" transform="rotate(0.0 29.9 9.2)" fill="#fff" stroke="#000" stroke-width="3"/>
</g>
<g transform="translate(0.0 0.0)">
<path d="M132.6 711.3C134.2 709.3 136.3 708.7 138.2 709.0C140.1 709.3 143.1 711.1 143.9 713.2C144.7 715.3 143.8 719.0 143.0 721.7C142.2 724.4 139.7 726.7 139.2 729.2C138.7 731.7 140.7 735.1 140.1 736.7C139.5 738.3 137.9 738.8 135.4 738.6C132.9 738.5 127.4 737.4 125.0 735.8C122.6 734.2 121.3 731.0 120.8 729.2C120.3 727.4 120.9 726.3 122.2 725.0C123.5 723.7 126.7 723.5 128.4 721.2C130.1 718.9 131.0 713.3 132.6 711.3Z" fill="#000" stroke="none" stroke-width="0" stroke-linejoin="round" />
<ellipse cx="127.9" cy="730.0" rx="1.8" ry="1.4" transform="rotate(0.0 127.9 730.0)" fill="#fff" stroke="none" stroke-width="2.5"/>
</g>
<g transform="translate(0.0 0.0)">
<path d="M195.0 732.5C196.1 731.4 198.7 730.0 200.4 730.1C202.2 730.2 204.5 731.7 205.5 733.0C206.5 734.3 207.1 734.7 206.5 737.7C205.9 740.7 202.3 747.5 201.8 750.8C201.3 754.1 204.6 755.4 203.7 757.4C202.8 759.4 199.2 762.1 196.6 762.6C194.0 763.1 190.5 762.0 188.2 760.3C185.9 758.6 183.6 754.3 183.0 752.3C182.4 750.3 183.1 749.7 184.4 748.5C185.7 747.3 189.4 747.2 191.0 745.2C192.6 743.2 193.1 738.8 193.8 736.7C194.5 734.6 193.9 733.6 195.0 732.5Z" fill="#000" stroke="none" stroke-width="0" stroke-linejoin="round" />
<ellipse cx="189.1" cy="752.7" rx="2.6" ry="2.2" transform="rotate(-30.0 189.1 752.7)" fill="#fff" stroke="none" stroke-width="2.5"/>
<ellipse cx="200.9" cy="734.8" rx="1.2" ry="1.2" transform="rotate(0.0 200.9 734.8)" fill="#fff" stroke="none" stroke-width="2.5"/>
</g>
<g transform="translate(205.4 138.3)">
<path d="M132.6 711.3C134.2 709.3 136.3 708.7 138.2 709.0C140.1 709.3 143.1 711.1 143.9 713.2C144.7 715.3 143.8 719.0 143.0 721.7C142.2 724.4 139.7 726.7 139.2 729.2C138.7 731.7 140.7 735.1 140.1 736.7C139.5 738.3 137.9 738.8 135.4 738.6C132.9 738.5 127.4 737.4 125.0 735.8C122.6 734.2 121.3 731.0 120.8 729.2C120.3 727.4 120.9 726.3 122.2 725.0C123.5 723.7 126.7 723.5 128.4 721.2C130.1 718.9 131.0 713.3 132.6 711.3Z" fill="#000" stroke="none" stroke-width="0" stroke-linejoin="round" />
<ellipse cx="127.9" cy="730.0" rx="1.8" ry="1.4" transform="rotate(0.0 127.9 730.0)" fill="#fff" stroke="none" stroke-width="2.5"/>
</g>
<ellipse cx="343.4" cy="851.2" rx="2.3" ry="1.6" transform="rotate(15.0 343.4 851.2)" fill="#fff" stroke="none" stroke-width="2.5"/>
<g transform="translate(204.3 138.8)">
<path d="M195.0 732.5C196.1 731.4 198.7 730.0 200.4 730.1C202.2 730.2 204.5 731.7 205.5 733.0C206.5 734.3 207.1 734.7 206.5 737.7C205.9 740.7 202.3 747.5 201.8 750.8C201.3 754.1 204.6 755.4 203.7 757.4C202.8 759.4 199.2 762.1 196.6 762.6C194.0 763.1 190.5 762.0 188.2 760.3C185.9 758.6 183.6 754.3 183.0 752.3C182.4 750.3 183.1 749.7 184.4 748.5C185.7 747.3 189.4 747.2 191.0 745.2C192.6 743.2 193.1 738.8 193.8 736.7C194.5 734.6 193.9 733.6 195.0 732.5Z" fill="#000" stroke="none" stroke-width="0" stroke-linejoin="round" />
<ellipse cx="189.1" cy="752.7" rx="2.6" ry="2.2" transform="rotate(-30.0 189.1 752.7)" fill="#fff" stroke="none" stroke-width="2.5"/>
<ellipse cx="200.9" cy="734.8" rx="1.2" ry="1.2" transform="rotate(0.0 200.9 734.8)" fill="#fff" stroke="none" stroke-width="2.5"/>
</g>
<ellipse cx="403.6" cy="879.2" rx="2.2" ry="1.3" transform="rotate(10.0 403.6 879.2)" fill="#fff" stroke="none" stroke-width="2.5"/>
<ellipse cx="402.0" cy="884.6" rx="2.0" ry="1.2" transform="rotate(10.0 402.0 884.6)" fill="#fff" stroke="none" stroke-width="2.5"/>
<g transform="translate(0.0 0.0)">
<path d="M689.9 72.5C690.3 70.8 691.1 65.2 692.5 62.0C693.9 58.8 696.2 55.2 698.0 53.0C699.8 50.8 701.4 49.6 703.0 48.5C704.6 47.4 706.2 46.8 707.7 46.5C709.2 46.2 710.7 46.3 712.0 46.6C713.3 46.9 714.5 47.7 715.5 48.4C716.5 49.1 717.5 50.1 718.2 51.0C719.0 51.9 719.7 53.3 720.0 53.8L742.8 61.4L746.7 80.3L731.8 92.6L713.6 86.8L713.6 86.8C713.1 87.2 711.5 89.0 710.5 89.5C709.5 90.0 709.0 90.0 707.7 90.0C706.4 90.0 704.1 89.7 702.5 89.2C700.9 88.7 699.4 87.7 698.0 86.8C696.6 85.9 695.1 84.7 694.0 83.6C692.9 82.5 692.2 81.5 691.5 80.3C690.8 79.1 690.3 77.8 690.0 76.5C689.7 75.2 689.9 73.2 689.9 72.5Z" fill="#000" stroke="#000" stroke-width="1" stroke-linejoin="round"/>
<path d="M692.8 71.6C692.8 72.4 692.2 74.6 692.5 76.4C692.8 78.1 693.6 81.0 694.6 82.3C695.5 83.7 697.1 84.4 698.2 84.5C699.3 84.6 700.7 83.3 701.2 83.1L700.8 81.5C700.4 81.5 699.3 81.7 698.8 81.5C698.2 81.3 698.0 81.5 697.4 80.5C696.9 79.5 696.0 77.2 695.5 75.6C695.0 74.1 694.6 72.1 694.4 71.4Z" fill="#fff"/>
<path d="M702.1 54.8C702.6 54.6 704.3 53.6 705.1 53.4C705.9 53.1 706.2 53.0 706.8 53.1C707.4 53.3 708.2 53.7 708.7 54.4C709.1 55.1 709.5 56.3 709.6 57.6C709.7 58.9 709.4 60.5 709.1 62.2C708.8 63.8 708.4 65.7 707.8 67.5C707.2 69.3 705.9 72.2 705.6 73.2L706.8 73.8C707.4 72.9 709.3 70.3 710.2 68.5C711.1 66.6 711.6 64.7 712.1 62.8C712.5 61.0 712.9 59.1 712.8 57.4C712.7 55.7 712.2 53.8 711.3 52.6C710.5 51.4 708.9 50.4 707.6 50.1C706.4 49.7 705.0 50.1 703.9 50.6C702.8 51.2 701.6 53.1 701.1 53.6Z" fill="#fff"/>
<ellipse cx="701.7" cy="65.2" rx="1.8" ry="3.8" transform="rotate(25.0 701.7 65.2)" fill="#fff" stroke="none" stroke-width="2.5"/>
<path d="M714.6 52.9C714.6 54.0 714.9 57.6 714.8 59.5C714.7 61.5 714.5 62.8 714.0 64.6C713.6 66.5 712.9 68.3 712.2 70.7C711.5 73.0 710.1 77.4 709.7 78.7L711.1 79.3C711.8 78.0 714.0 74.0 715.0 71.7C716.0 69.4 716.7 67.4 717.2 65.4C717.7 63.3 718.2 61.6 718.0 59.5C717.8 57.4 716.5 53.8 716.2 52.7Z" fill="#fff"/>
<ellipse cx="706.4" cy="84.2" rx="1.6" ry="0.9" transform="rotate(-35.0 706.4 84.2)" fill="#fff" stroke="none" stroke-width="2.5"/>
<path d="M722.0 60.4C721.6 62.5 720.0 70.7 719.6 72.8" fill="none" stroke="#fff" stroke-width="2.9" stroke-linecap="round" stroke-linejoin="round" />
<path d="M729.1 63.0C728.6 65.2 726.6 74.0 726.1 76.2" fill="none" stroke="#fff" stroke-width="2.9" stroke-linecap="round" stroke-linejoin="round" />
<path d="M736.2 65.6C735.8 67.7 734.2 75.9 733.8 78.0" fill="none" stroke="#fff" stroke-width="2.9" stroke-linecap="round" stroke-linejoin="round" />
<path d="M741.8 74.2L742.6 78.5L740.0 80.6Z" fill="#fff" stroke="none" stroke-width="0" stroke-linejoin="round" />
<ellipse cx="731.4" cy="83.2" rx="1.1" ry="0.9" transform="rotate(0.0 731.4 83.2)" fill="#fff" stroke="none" stroke-width="2.5"/>
</g>
<g transform="translate(166.6 57.6)">
<path d="M689.9 72.5C690.3 70.8 691.1 65.2 692.5 62.0C693.9 58.8 696.2 55.2 698.0 53.0C699.8 50.8 701.4 49.6 703.0 48.5C704.6 47.4 706.2 46.8 707.7 46.5C709.2 46.2 710.7 46.3 712.0 46.6C713.3 46.9 714.5 47.7 715.5 48.4C716.5 49.1 717.5 50.1 718.2 51.0C719.0 51.9 719.7 53.3 720.0 53.8L742.8 61.4L746.7 80.3L731.8 92.6L713.6 86.8L713.6 86.8C713.1 87.2 711.5 89.0 710.5 89.5C709.5 90.0 709.0 90.0 707.7 90.0C706.4 90.0 704.1 89.7 702.5 89.2C700.9 88.7 699.4 87.7 698.0 86.8C696.6 85.9 695.1 84.7 694.0 83.6C692.9 82.5 692.2 81.5 691.5 80.3C690.8 79.1 690.3 77.8 690.0 76.5C689.7 75.2 689.9 73.2 689.9 72.5Z" fill="#000" stroke="#000" stroke-width="1" stroke-linejoin="round"/>
<path d="M692.8 71.6C692.8 72.4 692.2 74.6 692.5 76.4C692.8 78.1 693.6 81.0 694.6 82.3C695.5 83.7 697.1 84.4 698.2 84.5C699.3 84.6 700.7 83.3 701.2 83.1L700.8 81.5C700.4 81.5 699.3 81.7 698.8 81.5C698.2 81.3 698.0 81.5 697.4 80.5C696.9 79.5 696.0 77.2 695.5 75.6C695.0 74.1 694.6 72.1 694.4 71.4Z" fill="#fff"/>
<path d="M702.1 54.8C702.6 54.6 704.3 53.6 705.1 53.4C705.9 53.1 706.2 53.0 706.8 53.1C707.4 53.3 708.2 53.7 708.7 54.4C709.1 55.1 709.5 56.3 709.6 57.6C709.7 58.9 709.4 60.5 709.1 62.2C708.8 63.8 708.4 65.7 707.8 67.5C707.2 69.3 705.9 72.2 705.6 73.2L706.8 73.8C707.4 72.9 709.3 70.3 710.2 68.5C711.1 66.6 711.6 64.7 712.1 62.8C712.5 61.0 712.9 59.1 712.8 57.4C712.7 55.7 712.2 53.8 711.3 52.6C710.5 51.4 708.9 50.4 707.6 50.1C706.4 49.7 705.0 50.1 703.9 50.6C702.8 51.2 701.6 53.1 701.1 53.6Z" fill="#fff"/>
<ellipse cx="701.7" cy="65.2" rx="1.8" ry="3.8" transform="rotate(25.0 701.7 65.2)" fill="#fff" stroke="none" stroke-width="2.5"/>
<path d="M714.6 52.9C714.6 54.0 714.9 57.6 714.8 59.5C714.7 61.5 714.5 62.8 714.0 64.6C713.6 66.5 712.9 68.3 712.2 70.7C711.5 73.0 710.1 77.4 709.7 78.7L711.1 79.3C711.8 78.0 714.0 74.0 715.0 71.7C716.0 69.4 716.7 67.4 717.2 65.4C717.7 63.3 718.2 61.6 718.0 59.5C717.8 57.4 716.5 53.8 716.2 52.7Z" fill="#fff"/>
<ellipse cx="706.4" cy="84.2" rx="1.6" ry="0.9" transform="rotate(-35.0 706.4 84.2)" fill="#fff" stroke="none" stroke-width="2.5"/>
<path d="M722.0 60.4C721.6 62.5 720.0 70.7 719.6 72.8" fill="none" stroke="#fff" stroke-width="2.9" stroke-linecap="round" stroke-linejoin="round" />
<path d="M729.1 63.0C728.6 65.2 726.6 74.0 726.1 76.2" fill="none" stroke="#fff" stroke-width="2.9" stroke-linecap="round" stroke-linejoin="round" />
<path d="M736.2 65.6C735.8 67.7 734.2 75.9 733.8 78.0" fill="none" stroke="#fff" stroke-width="2.9" stroke-linecap="round" stroke-linejoin="round" />
<path d="M741.8 74.2L742.6 78.5L740.0 80.6Z" fill="#fff" stroke="none" stroke-width="0" stroke-linejoin="round" />
<ellipse cx="731.4" cy="83.2" rx="1.1" ry="0.9" transform="rotate(0.0 731.4 83.2)" fill="#fff" stroke="none" stroke-width="2.5"/>
</g>
<g transform="translate(0.0 0.0)">
<ellipse cx="949.5" cy="150.6" rx="12.8" ry="24.8" transform="rotate(20.0 949.5 150.6)" fill="none" stroke="#000" stroke-width="4.4"/>
<ellipse cx="949.8" cy="150.4" rx="6.2" ry="16.6" transform="rotate(20.0 949.8 150.4)" fill="none" stroke="#000" stroke-width="3"/>
</g>
<g transform="translate(-168.0 -56.6)">
<ellipse cx="949.5" cy="150.6" rx="12.8" ry="24.8" transform="rotate(20.0 949.5 150.6)" fill="none" stroke="#000" stroke-width="4.4"/>
<ellipse cx="949.8" cy="150.4" rx="6.2" ry="16.6" transform="rotate(20.0 949.8 150.4)" fill="none" stroke="#000" stroke-width="3"/>
</g>
<g transform="translate(0.0 0.0) rotate(0.0 666 208)">
<path d="M650.0 172.5L651.5 169.5L654.5 168.5L657.5 169.8L659.0 173.0L660.0 186.0L668.0 194.0L652.0 205.0L650.5 190.0Z" fill="#000" stroke="#000" stroke-width="1.5" stroke-linejoin="round" />
<ellipse cx="666.2" cy="208.4" rx="15.4" ry="15.8" transform="rotate(0.0 666.2 208.4)" fill="#000" stroke="none" stroke-width="2.5"/>
<ellipse cx="653.7" cy="174.6" rx="2.7" ry="3.2" transform="rotate(0.0 653.7 174.6)" fill="#fff" stroke="none" stroke-width="2.5"/>
<path d="M654.0 180.5C654.5 180.4 656.5 180.1 657.0 180.0" fill="none" stroke="#fff" stroke-width="1.4" stroke-linecap="round" stroke-linejoin="round" />
<path d="M655.0 185.0C655.4 185.2 657.1 186.2 657.5 186.5" fill="none" stroke="#fff" stroke-width="1.4" stroke-linecap="round" stroke-linejoin="round" />
<ellipse cx="670.8" cy="205.2" rx="6.6" ry="8.2" transform="rotate(25.0 670.8 205.2)" fill="none" stroke="#fff" stroke-width="2"/>
<ellipse cx="671.6" cy="204.8" rx="2.4" ry="3.6" transform="rotate(25.0 671.6 204.8)" fill="#fff" stroke="none" stroke-width="2.5"/>
<path d="M656.5 213.5C659 220.5 667 221.5 671.5 215.5C667 218 660.5 217 656.5 213.5Z" fill="#fff" stroke="#fff" stroke-width="1.2" stroke-linejoin="round"/>
<ellipse cx="655.5" cy="206.3" rx="2.0" ry="1.4" transform="rotate(-20.0 655.5 206.3)" fill="#fff" stroke="none" stroke-width="2.5"/>
<path d="M675.5 199.0C675.8 199.7 677.2 202.3 677.5 203.0" fill="none" stroke="#fff" stroke-width="1.2" stroke-linecap="round" stroke-linejoin="round" />
</g>
<g transform="translate(-81.2 129.5) rotate(-5.0 666 208)">
<path d="M650.0 172.5L651.5 169.5L654.5 168.5L657.5 169.8L659.0 173.0L660.0 186.0L668.0 194.0L652.0 205.0L650.5 190.0Z" fill="#000" stroke="#000" stroke-width="1.5" stroke-linejoin="round" />
<ellipse cx="666.2" cy="208.4" rx="15.4" ry="15.8" transform="rotate(0.0 666.2 208.4)" fill="#000" stroke="none" stroke-width="2.5"/>
<ellipse cx="653.7" cy="174.6" rx="2.7" ry="3.2" transform="rotate(0.0 653.7 174.6)" fill="#fff" stroke="none" stroke-width="2.5"/>
<path d="M654.0 180.5C654.5 180.4 656.5 180.1 657.0 180.0" fill="none" stroke="#fff" stroke-width="1.4" stroke-linecap="round" stroke-linejoin="round" />
<path d="M655.0 185.0C655.4 185.2 657.1 186.2 657.5 186.5" fill="none" stroke="#fff" stroke-width="1.4" stroke-linecap="round" stroke-linejoin="round" />
<ellipse cx="670.8" cy="205.2" rx="6.6" ry="8.2" transform="rotate(25.0 670.8 205.2)" fill="none" stroke="#fff" stroke-width="2"/>
<ellipse cx="671.6" cy="204.8" rx="2.4" ry="3.6" transform="rotate(25.0 671.6 204.8)" fill="#fff" stroke="none" stroke-width="2.5"/>
<path d="M656.5 213.5C659 220.5 667 221.5 671.5 215.5C667 218 660.5 217 656.5 213.5Z" fill="#fff" stroke="#fff" stroke-width="1.2" stroke-linejoin="round"/>
<ellipse cx="655.5" cy="206.3" rx="2.0" ry="1.4" transform="rotate(-20.0 655.5 206.3)" fill="#fff" stroke="none" stroke-width="2.5"/>
<path d="M675.5 199.0C675.8 199.7 677.2 202.3 677.5 203.0" fill="none" stroke="#fff" stroke-width="1.2" stroke-linecap="round" stroke-linejoin="round" />
</g>
<g transform="translate(0.0 0.0)">
<path d="M606.0 225.5C610.1 224.1 626.4 218.7 630.5 217.3" fill="none" stroke="#000" stroke-width="12.6" stroke-linecap="round" stroke-linejoin="round" />
<path d="M596.5 215.0C598.1 212.8 600.6 214.0 603.0 214.5C605.4 215.0 609.4 215.9 611.0 218.0C612.6 220.1 613.1 224.0 612.5 227.0C611.9 230.0 609.2 233.7 607.5 236.0C605.8 238.3 603.9 240.8 602.0 241.0C600.1 241.2 597.4 239.7 596.0 237.5C594.6 235.3 593.4 231.8 593.5 228.0C593.6 224.2 594.9 217.2 596.5 215.0Z" fill="#000" stroke="none" stroke-width="0" stroke-linejoin="round" />
<ellipse cx="598.4" cy="227.0" rx="2.6" ry="9.0" transform="rotate(8.0 598.4 227.0)" fill="#fff" stroke="none" stroke-width="2.5"/>
<ellipse cx="604.5" cy="233.0" rx="1.7" ry="5.0" transform="rotate(20.0 604.5 233.0)" fill="#fff" stroke="none" stroke-width="2.5"/>
<ellipse cx="609.5" cy="223.5" rx="1.1" ry="2.4" transform="rotate(-20.0 609.5 223.5)" fill="#fff" stroke="none" stroke-width="2.5"/>
<ellipse cx="615.5" cy="221.5" rx="1.1" ry="2.4" transform="rotate(-20.0 615.5 221.5)" fill="#fff" stroke="none" stroke-width="2.5"/>
<ellipse cx="621.0" cy="219.6" rx="1.1" ry="2.4" transform="rotate(-20.0 621.0 219.6)" fill="#fff" stroke="none" stroke-width="2.5"/>
<ellipse cx="626.0" cy="218.0" rx="1.1" ry="2.4" transform="rotate(-20.0 626.0 218.0)" fill="#fff" stroke="none" stroke-width="2.5"/>
</g>
<g transform="translate(-87.6 141.5)">
<path d="M606.0 225.5C610.1 224.1 626.4 218.7 630.5 217.3" fill="none" stroke="#000" stroke-width="12.6" stroke-linecap="round" stroke-linejoin="round" />
<path d="M596.5 215.0C598.1 212.8 600.6 214.0 603.0 214.5C605.4 215.0 609.4 215.9 611.0 218.0C612.6 220.1 613.1 224.0 612.5 227.0C611.9 230.0 609.2 233.7 607.5 236.0C605.8 238.3 603.9 240.8 602.0 241.0C600.1 241.2 597.4 239.7 596.0 237.5C594.6 235.3 593.4 231.8 593.5 228.0C593.6 224.2 594.9 217.2 596.5 215.0Z" fill="#000" stroke="none" stroke-width="0" stroke-linejoin="round" />
<ellipse cx="598.4" cy="227.0" rx="2.6" ry="9.0" transform="rotate(8.0 598.4 227.0)" fill="#fff" stroke="none" stroke-width="2.5"/>
<ellipse cx="604.5" cy="233.0" rx="1.7" ry="5.0" transform="rotate(20.0 604.5 233.0)" fill="#fff" stroke="none" stroke-width="2.5"/>
<ellipse cx="609.5" cy="223.5" rx="1.1" ry="2.4" transform="rotate(-20.0 609.5 223.5)" fill="#fff" stroke="none" stroke-width="2.5"/>
<ellipse cx="615.5" cy="221.5" rx="1.1" ry="2.4" transform="rotate(-20.0 615.5 221.5)" fill="#fff" stroke="none" stroke-width="2.5"/>
<ellipse cx="621.0" cy="219.6" rx="1.1" ry="2.4" transform="rotate(-20.0 621.0 219.6)" fill="#fff" stroke="none" stroke-width="2.5"/>
<ellipse cx="626.0" cy="218.0" rx="1.1" ry="2.4" transform="rotate(-20.0 626.0 218.0)" fill="#fff" stroke="none" stroke-width="2.5"/>
</g>
<g id="p1">
<path d="M660.5 484.3C666.6 485.9 690.9 492.2 697.0 493.8" fill="none" stroke="#000" stroke-width="9.6" stroke-linecap="round" stroke-linejoin="round" />
<ellipse cx="699.3" cy="495.0" rx="7.6" ry="7.8" transform="rotate(0.0 699.3 495.0)" fill="#000" stroke="none" stroke-width="2.5"/>
<ellipse cx="699.0" cy="493.0" rx="1.6" ry="1.5" transform="rotate(0.0 699.0 493.0)" fill="#fff" stroke="none" stroke-width="2.5"/>
<path d="M665.5 487.0C668.8 487.8 682.2 491.2 685.5 492.0" fill="none" stroke="#fff" stroke-width="1.0" stroke-linecap="round" stroke-linejoin="round" />
</g>
<g id="p6" transform="translate(661 519) scale(0.92) translate(-661 -519)">
<path d="M646.0 518.0L651.0 508.5L660.0 506.0L671.0 510.5L676.0 520.0L672.5 528.0L665.0 532.0L652.0 527.5Z" fill="#000" stroke="#000" stroke-width="2.5" stroke-linejoin="round" />
<ellipse cx="662.2" cy="515.6" rx="8.6" ry="4.8" transform="rotate(12.0 662.2 515.6)" fill="none" stroke="#fff" stroke-width="1.8"/>
<ellipse cx="663.5" cy="516.2" rx="3.4" ry="1.6" transform="rotate(12.0 663.5 516.2)" fill="#fff" stroke="none" stroke-width="2.5"/>
<ellipse cx="658.5" cy="523.4" rx="3.6" ry="1.7" transform="rotate(15.0 658.5 523.4)" fill="#fff" stroke="none" stroke-width="2.5"/>
<path d="M651.0 515.0C650.9 515.8 650.6 519.2 650.5 520.0" fill="none" stroke="#fff" stroke-width="1.3" stroke-linecap="round" stroke-linejoin="round" />
</g>
<g id="p14">
<ellipse cx="645.5" cy="552.5" rx="9.0" ry="4.4" transform="rotate(18.0 645.5 552.5)" fill="#000" stroke="#000" stroke-width="2.2"/>
<ellipse cx="645.5" cy="560.0" rx="9.0" ry="4.4" transform="rotate(18.0 645.5 560.0)" fill="#000" stroke="#000" stroke-width="2.2"/>
<ellipse cx="644.0" cy="567.5" rx="9.0" ry="4.4" transform="rotate(18.0 644.0 567.5)" fill="#000" stroke="#000" stroke-width="2.2"/>
<ellipse cx="642.0" cy="575.5" rx="9.0" ry="4.4" transform="rotate(18.0 642.0 575.5)" fill="#000" stroke="#000" stroke-width="2.2"/>
<path d="M640.0 550.0C639.2 554.5 635.8 572.5 635.0 577.0" fill="none" stroke="#000" stroke-width="6.0" stroke-linecap="round" stroke-linejoin="round" />
<ellipse cx="648.0" cy="556.0" rx="1.6" ry="1.0" transform="rotate(18.0 648.0 556.0)" fill="#fff" stroke="none" stroke-width="2.5"/>
<ellipse cx="641.0" cy="558.5" rx="1.3" ry="0.9" transform="rotate(18.0 641.0 558.5)" fill="#fff" stroke="none" stroke-width="2.5"/>
<ellipse cx="646.5" cy="564.0" rx="1.6" ry="1.0" transform="rotate(18.0 646.5 564.0)" fill="#fff" stroke="none" stroke-width="2.5"/>
<ellipse cx="640.5" cy="566.5" rx="1.5" ry="1.1" transform="rotate(18.0 640.5 566.5)" fill="#fff" stroke="none" stroke-width="2.5"/>
<ellipse cx="641.0" cy="576.5" rx="1.6" ry="1.0" transform="rotate(18.0 641.0 576.5)" fill="#fff" stroke="none" stroke-width="2.5"/>
</g>
<g id="p5">
<ellipse cx="632.0" cy="599.0" rx="14.4" ry="7.4" transform="rotate(22.0 632.0 599.0)" fill="#fff" stroke="#000" stroke-width="3.6"/>
<ellipse cx="632.0" cy="597.8" rx="7.6" ry="3.8" transform="rotate(22.0 632.0 597.8)" fill="#000" stroke="none" stroke-width="2.5"/>
</g>
<g id="p4">
<path d="M596.3 680.5C594.5 685.9 587.3 707.6 585.5 713.0" fill="none" stroke="#000" stroke-width="9.4" stroke-linecap="round" stroke-linejoin="round" />
<ellipse cx="582.0" cy="720.6" rx="10.0" ry="8.4" transform="rotate(10.0 582.0 720.6)" fill="#000" stroke="none" stroke-width="2.5"/>
<path d="M585.2 708.0C584.9 709.4 583.9 715.1 583.6 716.5" fill="none" stroke="#fff" stroke-width="2.0" stroke-linecap="round" stroke-linejoin="round" />
<ellipse cx="592.7" cy="688.5" rx="0.9" ry="0.9" transform="rotate(0.0 592.7 688.5)" fill="#fff" stroke="none" stroke-width="2.5"/>
<ellipse cx="591.0" cy="694.0" rx="0.9" ry="0.9" transform="rotate(0.0 591.0 694.0)" fill="#fff" stroke="none" stroke-width="2.5"/>
<ellipse cx="589.3" cy="699.5" rx="0.9" ry="0.9" transform="rotate(0.0 589.3 699.5)" fill="#fff" stroke="none" stroke-width="2.5"/>
<path d="M575.5 720.0C576.6 720.5 579.8 722.8 582.0 723.0C584.2 723.2 587.8 721.8 589.0 721.5" fill="none" stroke="#fff" stroke-width="0.8" stroke-linecap="round" stroke-linejoin="round" />
</g>
<path d="M723.0 626.3C726.6 627.5 740.9 632.4 744.5 633.6" fill="none" stroke="#000" stroke-width="11.6" stroke-linecap="round" stroke-linejoin="round" />
<ellipse cx="723.0" cy="626.3" rx="7.6" ry="9.0" transform="rotate(20.0 723.0 626.3)" fill="#000" stroke="none" stroke-width="2.5"/>
<ellipse cx="723.3" cy="623.9" rx="2.2" ry="1.9" transform="rotate(0.0 723.3 623.9)" fill="#fff" stroke="none" stroke-width="2.5"/>
<path d="M731.9 628.1C733.4 628.6 739.6 630.7 741.1 631.2" fill="none" stroke="#fff" stroke-width="1.4" stroke-linecap="round" stroke-linejoin="round" />
<path d="M715.4 652.5C718.8 653.6 732.1 658.2 735.5 659.3" fill="none" stroke="#000" stroke-width="11.6" stroke-linecap="round" stroke-linejoin="round" />
<ellipse cx="715.4" cy="652.5" rx="7.6" ry="9.0" transform="rotate(20.0 715.4 652.5)" fill="#000" stroke="none" stroke-width="2.5"/>
<ellipse cx="715.7" cy="650.1" rx="2.2" ry="1.9" transform="rotate(0.0 715.7 650.1)" fill="#fff" stroke="none" stroke-width="2.5"/>
<path d="M724.3 654.2C725.6 654.7 730.8 656.4 732.1 656.9" fill="none" stroke="#fff" stroke-width="1.4" stroke-linecap="round" stroke-linejoin="round" />
<path d="M1250.7 425.0C1247.0 423.3 1232.2 416.5 1228.5 414.8" fill="none" stroke="#000" stroke-width="11.6" stroke-linecap="round" stroke-linejoin="round" />
<ellipse cx="1250.7" cy="425.0" rx="7.2" ry="9.0" transform="rotate(20.0 1250.7 425.0)" fill="#000" stroke="none" stroke-width="2.5"/>
<ellipse cx="1250.1" cy="422.6" rx="2.9" ry="2.0" transform="rotate(-25.0 1250.1 422.6)" fill="#fff" stroke="none" stroke-width="2.5"/>
<path d="M1243.8 420.8C1241.7 419.7 1232.9 415.7 1230.7 414.7" fill="none" stroke="#fff" stroke-width="1.5" stroke-linecap="round" stroke-linejoin="round" />
<path d="M1255.0 456.8C1251.7 455.2 1238.3 448.9 1235.0 447.3" fill="none" stroke="#000" stroke-width="11.6" stroke-linecap="round" stroke-linejoin="round" />
<ellipse cx="1255.0" cy="456.8" rx="7.2" ry="9.0" transform="rotate(20.0 1255.0 456.8)" fill="#000" stroke="none" stroke-width="2.5"/>
<ellipse cx="1254.4" cy="454.4" rx="2.9" ry="2.0" transform="rotate(-25.0 1254.4 454.4)" fill="#fff" stroke="none" stroke-width="2.5"/>
<path d="M1248.2 452.5C1246.4 451.6 1239.1 448.1 1237.2 447.3" fill="none" stroke="#fff" stroke-width="1.5" stroke-linecap="round" stroke-linejoin="round" />
<g id="p9">
<path d="M686.5 646.5C685.9 646.0 684.5 644.0 683.0 643.2C681.5 642.4 679.8 641.6 677.7 641.6C675.6 641.6 672.5 642.0 670.5 643.0C668.5 644.0 666.9 644.1 665.4 647.4C663.9 650.7 662.9 657.2 661.4 662.7C659.9 668.2 658.2 675.1 656.4 680.3C654.6 685.5 651.3 690.2 650.7 694.0C650.1 697.8 650.8 700.2 652.6 703.0C654.4 705.8 656.8 707.6 661.4 710.5C666.0 713.4 674.6 717.6 680.3 720.5C685.9 723.4 691.5 727.0 695.3 728.0C699.1 729.0 700.9 728.3 702.9 726.8C704.9 725.3 706.6 720.5 707.3 719.2" fill="none" stroke="#000" stroke-width="5.6" stroke-linecap="round" stroke-linejoin="round" />
<path d="M686.5 646.5C687.0 647.6 688.8 650.1 689.3 653.0C689.8 655.9 690.4 659.7 689.7 664.0C689.0 668.3 687.3 673.8 685.3 679.0C683.3 684.2 679.2 692.1 677.7 695.4C676.2 698.7 676.7 698.4 676.5 699.0" fill="none" stroke="#000" stroke-width="3.0" stroke-linecap="round" stroke-linejoin="round" />
<path d="M676.5 699.0C678.8 700.3 685.5 704.1 690.3 706.7C695.1 709.3 702.6 712.7 705.4 714.8C708.2 716.9 707.0 718.5 707.3 719.2" fill="none" stroke="#000" stroke-width="2.6" stroke-linecap="round" stroke-linejoin="round" />
<path d="M658.3 695.4C659.1 695.8 660.4 697.4 663.0 697.6C665.6 697.8 672.2 696.9 674.0 696.8" fill="none" stroke="#000" stroke-width="4.4" stroke-linecap="round" stroke-linejoin="round" />
<path d="M664.0 702.5C666.7 704.1 674.6 708.8 680.0 712.0C685.4 715.2 692.8 720.6 696.6 721.8C700.4 723.0 701.9 719.6 702.9 719.2" fill="none" stroke="#000" stroke-width="1.6" stroke-linecap="round" stroke-linejoin="round" />
<path d="M657.0 705.0C659.5 706.4 666.5 710.5 672.0 713.5C677.5 716.5 687.0 721.4 690.0 723.0" fill="none" stroke="#fff" stroke-width="1.2" stroke-linecap="round" stroke-linejoin="round" />
<ellipse cx="679.6" cy="658.3" rx="4.4" ry="5.8" transform="rotate(15.0 679.6 658.3)" fill="#fff" stroke="#000" stroke-width="2.6"/>
<path d="M680.5 655.5C680.6 656.1 681.2 658.0 681.0 659.0C680.8 660.0 679.8 661.1 679.5 661.5" fill="none" stroke="#000" stroke-width="1.3" stroke-linecap="round" stroke-linejoin="round" />
<ellipse cx="672.5" cy="685.0" rx="4.4" ry="5.8" transform="rotate(15.0 672.5 685.0)" fill="#fff" stroke="#000" stroke-width="2.6"/>
<path d="M673.4 682.0C673.5 682.6 674.1 684.5 674.0 685.5C673.9 686.5 672.8 687.6 672.5 688.0" fill="none" stroke="#000" stroke-width="1.3" stroke-linecap="round" stroke-linejoin="round" />
<ellipse cx="687.2" cy="710.5" rx="6.8" ry="3.2" transform="rotate(30.0 687.2 710.5)" fill="#000" stroke="none" stroke-width="2.5"/>
</g>
<g id="p13">
<path d="M1150.0 371.5C1151.2 370.7 1154.5 367.4 1157.0 366.5C1159.5 365.6 1162.3 365.5 1165.0 366.0C1167.7 366.5 1170.5 367.9 1173.0 369.5C1175.5 371.1 1177.8 372.7 1180.0 375.5C1182.2 378.3 1184.6 381.9 1186.5 386.5C1188.4 391.1 1190.0 396.9 1191.5 402.8C1193.0 408.7 1194.0 415.6 1195.2 421.7C1196.4 427.8 1197.4 434.6 1198.8 439.2C1200.2 443.8 1201.9 446.2 1203.5 449.0C1205.1 451.8 1207.3 453.8 1208.5 456.0C1209.7 458.2 1210.6 460.2 1210.5 462.5C1210.4 464.8 1209.9 467.6 1208.0 469.5C1206.1 471.4 1202.3 472.7 1199.0 474.0C1195.7 475.3 1191.8 476.7 1188.0 477.5C1184.2 478.3 1180.2 479.4 1176.5 479.0C1172.8 478.6 1168.7 476.8 1166.0 475.0C1163.3 473.2 1161.3 470.5 1160.5 468.0C1159.7 465.5 1160.1 462.1 1161.0 460.0C1161.9 457.9 1164.2 456.7 1166.0 455.5C1167.8 454.3 1171.0 453.4 1172.0 453.0" fill="none" stroke="#000" stroke-width="6.6" stroke-linecap="round" stroke-linejoin="round" />
<path d="M1150.0 371.5C1149.6 372.2 1148.2 374.1 1147.8 376.0C1147.3 377.9 1146.9 380.7 1147.3 383.0C1147.7 385.3 1149.1 387.9 1150.0 390.0C1150.9 392.1 1151.5 393.3 1152.7 395.3C1153.9 397.3 1155.5 399.5 1157.0 402.0C1158.5 404.5 1160.6 407.4 1161.5 410.4C1162.4 413.4 1162.2 417.1 1162.5 420.0C1162.8 422.9 1162.3 424.8 1163.2 428.0C1164.1 431.2 1166.1 435.9 1167.7 439.2C1169.3 442.4 1172.1 445.2 1172.8 447.5C1173.5 449.8 1172.1 452.1 1172.0 453.0" fill="none" stroke="#000" stroke-width="3.2" stroke-linecap="round" stroke-linejoin="round" />
<path d="M1173.4 448.4C1174.7 448.8 1178.2 450.1 1181.0 451.0C1183.8 451.9 1187.0 452.9 1190.4 453.5C1193.9 454.1 1199.8 454.3 1201.7 454.5" fill="none" stroke="#000" stroke-width="4.6" stroke-linecap="round" stroke-linejoin="round" />
<path d="M1179.0 456.5C1181.2 457.2 1187.6 459.5 1192.0 461.0C1196.4 462.5 1204.4 464.1 1205.4 465.3C1206.4 466.6 1200.5 467.6 1198.0 468.5C1195.5 469.4 1191.7 470.6 1190.4 471.0" fill="none" stroke="#000" stroke-width="1.8" stroke-linecap="round" stroke-linejoin="round" />
<path d="M1164.5 461.5C1164.8 462.3 1165.2 465.0 1166.5 466.5C1167.8 468.0 1169.8 469.5 1172.0 470.5C1174.2 471.5 1177.7 472.2 1180.0 472.5C1182.3 472.8 1185.0 472.1 1186.0 472.0" fill="none" stroke="#000" stroke-width="1.8" stroke-linecap="round" stroke-linejoin="round" />
<ellipse cx="1164.6" cy="383.0" rx="6.4" ry="6.2" transform="rotate(0.0 1164.6 383.0)" fill="#000" stroke="none" stroke-width="2.5"/>
<ellipse cx="1166.5" cy="384.0" rx="1.5" ry="1.4" transform="rotate(0.0 1166.5 384.0)" fill="#fff" stroke="none" stroke-width="2.5"/>
<ellipse cx="1174.6" cy="415.0" rx="6.8" ry="6.4" transform="rotate(0.0 1174.6 415.0)" fill="#000" stroke="none" stroke-width="2.5"/>
<ellipse cx="1176.8" cy="416.3" rx="1.6" ry="1.4" transform="rotate(0.0 1176.8 416.3)" fill="#fff" stroke="none" stroke-width="2.5"/>
<ellipse cx="1181.0" cy="464.0" rx="10.4" ry="5.2" transform="rotate(18.0 1181.0 464.0)" fill="#000" stroke="none" stroke-width="2.5"/>
<ellipse cx="1181.5" cy="465.5" rx="1.2" ry="0.9" transform="rotate(0.0 1181.5 465.5)" fill="#fff" stroke="none" stroke-width="2.5"/>
</g>
</svg>
</body></html>
